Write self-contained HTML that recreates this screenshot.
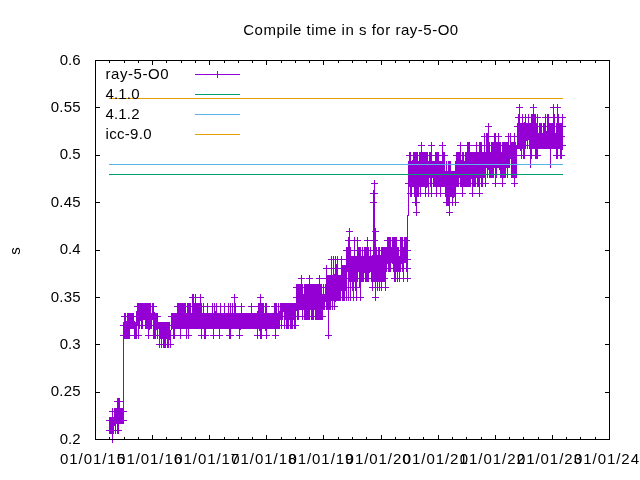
<!DOCTYPE html>
<html><head><meta charset="utf-8"><title>Compile time in s for ray-5-O0</title>
<style>
html,body{margin:0;padding:0;background:#fff;}
svg{display:block;will-change:transform;font-family:"Liberation Sans",sans-serif;font-size:15px;fill:#000;}
path,rect{shape-rendering:crispEdges;fill:none;stroke-width:1;}
</style></head><body>
<svg width="640" height="480" viewBox="0 0 640 480">
<rect x="0" y="0" width="640" height="480" style="fill:#fff;stroke:none"/>
<g stroke="#9400d3"><path d="M109.5 430.5 L109.5 420.5 L109.5 430.5 L109.5 420.5 L110.5 420.5 L110.5 430.5 L110.5 420.5 L111.5 430.5 L111.5 420.5 L111.5 430.5 L111.5 420.5 L112.5 420.5 L112.5 411.5 L112.5 439.5 L112.5 420.5 L113.5 430.5 L113.5 420.5 L114.5 420.5 L114.5 411.5 L114.5 420.5 L115.5 430.5 L115.5 411.5 L115.5 420.5 L116.5 411.5 L116.5 420.5 L116.5 411.5 L117.5 430.5 L117.5 411.5 L117.5 401.5 L117.5 411.5 L118.5 401.5 L118.5 430.5 L118.5 411.5 L118.5 401.5 L119.5 411.5 L119.5 401.5 L119.5 420.5 L119.5 411.5 L120.5 420.5 L120.5 411.5 L120.5 420.5 L121.5 411.5 L121.5 420.5 L121.5 411.5 L122.5 420.5 L122.5 411.5 L122.5 420.5 L122.5 411.5 L123.5 411.5 L123.5 420.5 L123.5 335.5 L123.5 325.5 L124.5 325.5 L124.5 335.5 L124.5 316.5 L124.5 335.5 L124.5 316.5 L125.5 335.5 L125.5 316.5 L125.5 325.5 L125.5 335.5 L126.5 335.5 L126.5 325.5 L126.5 335.5 L126.5 325.5 L127.5 316.5 L127.5 335.5 L127.5 325.5 L128.5 325.5 L128.5 335.5 L128.5 325.5 L128.5 316.5 L128.5 325.5 L129.5 316.5 L129.5 335.5 L129.5 325.5 L129.5 316.5 L129.5 325.5 L129.5 316.5 L130.5 325.5 L130.5 316.5 L130.5 325.5 L130.5 316.5 L130.5 325.5 L131.5 316.5 L131.5 325.5 L131.5 316.5 L132.5 316.5 L132.5 325.5 L132.5 316.5 L132.5 325.5 L133.5 316.5 L133.5 325.5 L133.5 316.5 L134.5 325.5 L134.5 335.5 L134.5 325.5 L135.5 325.5 L135.5 335.5 L135.5 325.5 L135.5 335.5 L136.5 316.5 L136.5 325.5 L136.5 316.5 L136.5 325.5 L136.5 335.5 L136.5 316.5 L137.5 306.5 L137.5 316.5 L137.5 306.5 L137.5 316.5 L138.5 335.5 L138.5 316.5 L138.5 325.5 L138.5 306.5 L139.5 306.5 L139.5 316.5 L139.5 325.5 L140.5 316.5 L140.5 306.5 L141.5 316.5 L141.5 306.5 L141.5 325.5 L141.5 316.5 L141.5 306.5 L142.5 316.5 L142.5 325.5 L142.5 306.5 L142.5 325.5 L142.5 306.5 L143.5 316.5 L143.5 306.5 L144.5 306.5 L144.5 316.5 L144.5 306.5 L144.5 316.5 L144.5 306.5 L145.5 306.5 L145.5 325.5 L145.5 316.5 L145.5 325.5 L146.5 316.5 L146.5 306.5 L146.5 325.5 L146.5 306.5 L146.5 316.5 L147.5 325.5 L147.5 306.5 L147.5 316.5 L148.5 316.5 L148.5 306.5 L148.5 335.5 L149.5 325.5 L149.5 316.5 L149.5 306.5 L149.5 316.5 L149.5 325.5 L149.5 316.5 L149.5 325.5 L150.5 306.5 L150.5 316.5 L150.5 325.5 L150.5 306.5 L150.5 325.5 L151.5 316.5 L151.5 325.5 L151.5 316.5 L152.5 316.5 L152.5 306.5 L153.5 316.5 L153.5 306.5 L153.5 335.5 L153.5 306.5 L154.5 316.5 L154.5 325.5 L154.5 316.5 L154.5 325.5 L154.5 335.5 L155.5 316.5 L155.5 325.5 L155.5 335.5 L155.5 316.5 L155.5 335.5 L156.5 325.5 L156.5 316.5 L156.5 325.5 L157.5 325.5 L157.5 316.5 L157.5 335.5 L157.5 325.5 L158.5 325.5 L159.5 325.5 L159.5 344.5 L159.5 325.5 L159.5 335.5 L159.5 325.5 L160.5 325.5 L160.5 335.5 L160.5 325.5 L160.5 335.5 L161.5 335.5 L161.5 344.5 L161.5 335.5 L161.5 325.5 L161.5 335.5 L162.5 335.5 L162.5 325.5 L162.5 335.5 L163.5 325.5 L163.5 335.5 L163.5 344.5 L163.5 325.5 L163.5 344.5 L163.5 335.5 L164.5 344.5 L164.5 325.5 L164.5 335.5 L164.5 325.5 L165.5 344.5 L165.5 335.5 L165.5 325.5 L165.5 335.5 L165.5 325.5 L166.5 335.5 L166.5 325.5 L166.5 335.5 L166.5 325.5 L166.5 335.5 L167.5 335.5 L167.5 325.5 L167.5 344.5 L167.5 335.5 L167.5 344.5 L168.5 325.5 L168.5 344.5 L168.5 325.5 L168.5 335.5 L168.5 325.5 L168.5 335.5 L169.5 335.5 L169.5 325.5 L169.5 335.5 L170.5 344.5 L170.5 335.5 L170.5 344.5 L170.5 335.5 L171.5 325.5 L171.5 316.5 L171.5 325.5 L171.5 316.5 L171.5 325.5 L172.5 325.5 L172.5 316.5 L172.5 325.5 L172.5 316.5 L172.5 325.5 L173.5 316.5 L173.5 325.5 L173.5 335.5 L173.5 316.5 L173.5 325.5 L174.5 316.5 L174.5 335.5 L175.5 316.5 L175.5 325.5 L175.5 316.5 L175.5 325.5 L175.5 316.5 L175.5 325.5 L176.5 325.5 L176.5 316.5 L176.5 325.5 L176.5 316.5 L176.5 325.5 L177.5 316.5 L177.5 325.5 L177.5 306.5 L177.5 325.5 L177.5 316.5 L177.5 325.5 L178.5 306.5 L178.5 325.5 L178.5 316.5 L178.5 325.5 L178.5 306.5 L178.5 325.5 L179.5 316.5 L179.5 306.5 L179.5 316.5 L179.5 306.5 L179.5 325.5 L179.5 316.5 L180.5 306.5 L180.5 335.5 L180.5 316.5 L180.5 306.5 L180.5 325.5 L180.5 316.5 L181.5 325.5 L181.5 316.5 L181.5 325.5 L181.5 306.5 L181.5 316.5 L182.5 306.5 L182.5 316.5 L182.5 325.5 L182.5 306.5 L182.5 325.5 L183.5 325.5 L183.5 306.5 L183.5 325.5 L183.5 316.5 L183.5 325.5 L183.5 306.5 L184.5 316.5 L184.5 325.5 L184.5 316.5 L184.5 306.5 L184.5 325.5 L184.5 316.5 L185.5 325.5 L185.5 306.5 L185.5 316.5 L185.5 325.5 L185.5 306.5 L186.5 325.5 L186.5 316.5 L186.5 335.5 L186.5 325.5 L186.5 316.5 L187.5 316.5 L187.5 306.5 L187.5 325.5 L188.5 316.5 L188.5 325.5 L188.5 306.5 L188.5 316.5 L188.5 335.5 L188.5 325.5 L189.5 316.5 L189.5 325.5 L189.5 306.5 L189.5 325.5 L190.5 316.5 L190.5 306.5 L190.5 325.5 L190.5 316.5 L191.5 325.5 L191.5 316.5 L191.5 325.5 L191.5 316.5 L191.5 325.5 L192.5 316.5 L192.5 325.5 L192.5 316.5 L192.5 325.5 L192.5 306.5 L192.5 316.5 L192.5 297.5 L193.5 316.5 L193.5 297.5 L193.5 325.5 L193.5 306.5 L194.5 306.5 L194.5 325.5 L194.5 316.5 L194.5 306.5 L194.5 316.5 L195.5 316.5 L195.5 297.5 L195.5 316.5 L195.5 297.5 L195.5 325.5 L195.5 297.5 L195.5 325.5 L196.5 316.5 L196.5 325.5 L196.5 306.5 L196.5 325.5 L197.5 316.5 L197.5 325.5 L197.5 306.5 L197.5 316.5 L197.5 325.5 L198.5 325.5 L198.5 316.5 L198.5 306.5 L198.5 316.5 L199.5 325.5 L199.5 306.5 L199.5 325.5 L199.5 316.5 L200.5 325.5 L200.5 306.5 L200.5 325.5 L200.5 316.5 L200.5 325.5 L200.5 297.5 L201.5 316.5 L201.5 335.5 L201.5 306.5 L201.5 325.5 L201.5 306.5 L201.5 325.5 L202.5 325.5 L202.5 316.5 L202.5 325.5 L203.5 306.5 L203.5 316.5 L203.5 325.5 L203.5 316.5 L204.5 316.5 L204.5 335.5 L204.5 325.5 L204.5 316.5 L204.5 325.5 L205.5 325.5 L205.5 335.5 L205.5 316.5 L205.5 325.5 L206.5 325.5 L206.5 316.5 L206.5 325.5 L206.5 316.5 L207.5 325.5 L207.5 306.5 L207.5 325.5 L207.5 316.5 L208.5 325.5 L208.5 316.5 L208.5 325.5 L208.5 316.5 L209.5 325.5 L209.5 316.5 L209.5 325.5 L209.5 316.5 L210.5 325.5 L210.5 316.5 L210.5 325.5 L211.5 325.5 L211.5 316.5 L211.5 325.5 L212.5 316.5 L212.5 325.5 L212.5 306.5 L212.5 325.5 L213.5 325.5 L213.5 316.5 L213.5 335.5 L213.5 316.5 L214.5 316.5 L214.5 325.5 L214.5 316.5 L214.5 325.5 L214.5 306.5 L214.5 325.5 L215.5 325.5 L215.5 316.5 L216.5 306.5 L216.5 325.5 L216.5 316.5 L216.5 325.5 L217.5 325.5 L217.5 316.5 L217.5 325.5 L218.5 316.5 L218.5 325.5 L218.5 316.5 L218.5 325.5 L219.5 325.5 L219.5 335.5 L219.5 325.5 L219.5 316.5 L219.5 325.5 L220.5 316.5 L220.5 306.5 L220.5 325.5 L220.5 316.5 L221.5 325.5 L221.5 316.5 L222.5 316.5 L222.5 325.5 L222.5 316.5 L222.5 325.5 L222.5 316.5 L223.5 325.5 L223.5 316.5 L223.5 325.5 L223.5 316.5 L223.5 325.5 L224.5 325.5 L224.5 316.5 L224.5 306.5 L224.5 325.5 L225.5 316.5 L225.5 325.5 L225.5 316.5 L225.5 325.5 L225.5 316.5 L226.5 316.5 L226.5 325.5 L226.5 316.5 L226.5 325.5 L226.5 316.5 L226.5 325.5 L227.5 316.5 L227.5 325.5 L227.5 316.5 L227.5 325.5 L228.5 316.5 L228.5 325.5 L228.5 306.5 L228.5 316.5 L229.5 325.5 L229.5 335.5 L229.5 316.5 L230.5 316.5 L230.5 306.5 L230.5 316.5 L230.5 335.5 L230.5 325.5 L231.5 325.5 L231.5 316.5 L231.5 325.5 L231.5 316.5 L232.5 316.5 L232.5 325.5 L232.5 316.5 L232.5 306.5 L232.5 316.5 L233.5 316.5 L233.5 325.5 L234.5 325.5 L234.5 316.5 L234.5 325.5 L234.5 297.5 L234.5 325.5 L234.5 316.5 L234.5 325.5 L235.5 316.5 L235.5 325.5 L235.5 306.5 L235.5 325.5 L236.5 325.5 L236.5 316.5 L236.5 325.5 L236.5 316.5 L237.5 316.5 L237.5 325.5 L238.5 325.5 L238.5 316.5 L239.5 316.5 L239.5 325.5 L239.5 316.5 L239.5 335.5 L240.5 325.5 L240.5 316.5 L240.5 325.5 L240.5 316.5 L240.5 325.5 L241.5 316.5 L241.5 325.5 L241.5 306.5 L241.5 316.5 L242.5 325.5 L242.5 316.5 L242.5 325.5 L243.5 316.5 L243.5 325.5 L244.5 325.5 L244.5 316.5 L244.5 325.5 L244.5 316.5 L245.5 325.5 L245.5 316.5 L245.5 325.5 L245.5 316.5 L246.5 325.5 L246.5 316.5 L246.5 325.5 L247.5 316.5 L247.5 325.5 L248.5 316.5 L248.5 325.5 L248.5 316.5 L249.5 325.5 L249.5 316.5 L249.5 325.5 L249.5 316.5 L249.5 325.5 L249.5 316.5 L250.5 316.5 L250.5 325.5 L250.5 316.5 L251.5 325.5 L251.5 306.5 L251.5 316.5 L251.5 325.5 L251.5 316.5 L252.5 316.5 L252.5 325.5 L252.5 316.5 L253.5 316.5 L253.5 325.5 L253.5 316.5 L253.5 325.5 L253.5 316.5 L254.5 316.5 L254.5 325.5 L254.5 316.5 L254.5 325.5 L254.5 316.5 L254.5 325.5 L254.5 316.5 L255.5 325.5 L255.5 316.5 L255.5 325.5 L255.5 316.5 L255.5 325.5 L255.5 316.5 L256.5 316.5 L256.5 325.5 L256.5 316.5 L256.5 325.5 L257.5 325.5 L257.5 335.5 L257.5 325.5 L257.5 316.5 L258.5 306.5 L258.5 325.5 L258.5 316.5 L258.5 306.5 L259.5 325.5 L259.5 306.5 L259.5 316.5 L259.5 306.5 L259.5 325.5 L260.5 335.5 L260.5 325.5 L260.5 297.5 L260.5 316.5 L260.5 325.5 L260.5 316.5 L261.5 335.5 L261.5 325.5 L261.5 306.5 L261.5 325.5 L261.5 316.5 L261.5 325.5 L262.5 325.5 L262.5 306.5 L263.5 316.5 L263.5 325.5 L263.5 306.5 L263.5 316.5 L263.5 325.5 L264.5 325.5 L264.5 316.5 L264.5 325.5 L265.5 316.5 L265.5 306.5 L265.5 316.5 L265.5 325.5 L266.5 335.5 L266.5 306.5 L266.5 325.5 L267.5 325.5 L267.5 316.5 L267.5 325.5 L267.5 316.5 L268.5 325.5 L268.5 316.5 L268.5 325.5 L269.5 325.5 L269.5 316.5 L269.5 325.5 L270.5 325.5 L270.5 316.5 L270.5 325.5 L270.5 316.5 L271.5 316.5 L271.5 325.5 L271.5 316.5 L272.5 325.5 L272.5 316.5 L272.5 325.5 L272.5 316.5 L273.5 316.5 L273.5 325.5 L273.5 316.5 L273.5 325.5 L273.5 316.5 L273.5 325.5 L274.5 325.5 L274.5 316.5 L274.5 325.5 L274.5 306.5 L274.5 325.5 L275.5 316.5 L275.5 306.5 L275.5 325.5 L275.5 335.5 L275.5 316.5 L276.5 316.5 L276.5 306.5 L276.5 325.5 L276.5 316.5 L276.5 325.5 L277.5 316.5 L277.5 325.5 L278.5 306.5 L278.5 325.5 L278.5 316.5 L279.5 316.5 L279.5 325.5 L279.5 316.5 L280.5 306.5 L280.5 316.5 L280.5 306.5 L281.5 306.5 L281.5 316.5 L281.5 306.5 L281.5 325.5 L281.5 306.5 L282.5 316.5 L282.5 306.5 L282.5 316.5 L282.5 306.5 L282.5 316.5 L283.5 306.5 L284.5 316.5 L284.5 306.5 L284.5 325.5 L284.5 316.5 L284.5 306.5 L285.5 316.5 L285.5 306.5 L285.5 316.5 L285.5 306.5 L285.5 316.5 L285.5 306.5 L285.5 316.5 L286.5 316.5 L286.5 306.5 L286.5 316.5 L286.5 306.5 L286.5 316.5 L286.5 325.5 L287.5 316.5 L287.5 306.5 L287.5 325.5 L287.5 306.5 L287.5 316.5 L288.5 306.5 L288.5 325.5 L288.5 306.5 L288.5 316.5 L288.5 306.5 L289.5 306.5 L289.5 316.5 L289.5 306.5 L289.5 316.5 L289.5 306.5 L289.5 316.5 L290.5 306.5 L290.5 325.5 L290.5 316.5 L290.5 306.5 L290.5 316.5 L291.5 306.5 L291.5 325.5 L291.5 316.5 L291.5 306.5 L291.5 316.5 L291.5 306.5 L292.5 316.5 L292.5 306.5 L292.5 325.5 L292.5 316.5 L293.5 316.5 L293.5 306.5 L293.5 316.5 L294.5 316.5 L294.5 325.5 L294.5 316.5 L294.5 306.5 L294.5 325.5 L294.5 306.5 L295.5 316.5 L295.5 306.5 L295.5 316.5 L295.5 325.5 L296.5 297.5 L296.5 306.5 L296.5 287.5 L296.5 306.5 L297.5 306.5 L297.5 297.5 L297.5 316.5 L297.5 287.5 L297.5 306.5 L298.5 316.5 L298.5 306.5 L298.5 287.5 L298.5 306.5 L298.5 287.5 L299.5 306.5 L299.5 287.5 L299.5 306.5 L300.5 297.5 L300.5 306.5 L300.5 297.5 L300.5 287.5 L300.5 297.5 L301.5 278.5 L301.5 306.5 L301.5 287.5 L301.5 297.5 L302.5 316.5 L302.5 306.5 L302.5 287.5 L302.5 297.5 L302.5 287.5 L302.5 306.5 L303.5 297.5 L303.5 306.5 L303.5 297.5 L303.5 306.5 L304.5 287.5 L304.5 297.5 L304.5 316.5 L304.5 306.5 L305.5 316.5 L305.5 297.5 L305.5 306.5 L305.5 297.5 L305.5 316.5 L305.5 287.5 L305.5 316.5 L306.5 297.5 L306.5 306.5 L306.5 287.5 L306.5 316.5 L306.5 306.5 L307.5 287.5 L307.5 316.5 L307.5 306.5 L307.5 297.5 L307.5 287.5 L307.5 306.5 L307.5 297.5 L308.5 297.5 L308.5 316.5 L308.5 287.5 L308.5 297.5 L309.5 278.5 L309.5 306.5 L309.5 278.5 L309.5 306.5 L309.5 316.5 L309.5 297.5 L309.5 306.5 L310.5 306.5 L310.5 287.5 L310.5 297.5 L310.5 287.5 L310.5 297.5 L311.5 306.5 L311.5 287.5 L311.5 306.5 L311.5 297.5 L311.5 316.5 L312.5 306.5 L312.5 316.5 L312.5 287.5 L312.5 297.5 L313.5 316.5 L313.5 297.5 L313.5 287.5 L313.5 306.5 L313.5 316.5 L314.5 287.5 L314.5 306.5 L314.5 297.5 L314.5 287.5 L314.5 297.5 L315.5 316.5 L315.5 306.5 L315.5 297.5 L315.5 287.5 L315.5 316.5 L315.5 297.5 L316.5 297.5 L316.5 287.5 L316.5 297.5 L316.5 306.5 L316.5 316.5 L316.5 287.5 L316.5 316.5 L317.5 316.5 L317.5 287.5 L317.5 306.5 L317.5 297.5 L317.5 306.5 L318.5 306.5 L318.5 287.5 L318.5 316.5 L318.5 306.5 L318.5 316.5 L319.5 306.5 L319.5 287.5 L319.5 278.5 L319.5 297.5 L319.5 316.5 L319.5 297.5 L320.5 297.5 L320.5 306.5 L320.5 287.5 L320.5 316.5 L320.5 306.5 L320.5 297.5 L321.5 297.5 L321.5 306.5 L321.5 316.5 L321.5 297.5 L321.5 287.5 L321.5 316.5 L322.5 306.5 L322.5 297.5 L322.5 316.5 L323.5 287.5 L323.5 306.5 L323.5 287.5 L323.5 306.5 L324.5 297.5 L324.5 306.5 L324.5 297.5 L324.5 306.5 L325.5 297.5 L325.5 287.5 L326.5 287.5 L326.5 268.5 L326.5 306.5 L326.5 278.5 L326.5 268.5 L327.5 297.5 L327.5 287.5 L327.5 306.5 L327.5 278.5 L327.5 287.5 L327.5 278.5 L328.5 297.5 L328.5 335.5 L328.5 287.5 L328.5 278.5 L328.5 306.5 L328.5 297.5 L328.5 278.5 L329.5 306.5 L329.5 278.5 L329.5 287.5 L329.5 297.5 L329.5 287.5 L329.5 297.5 L330.5 278.5 L330.5 306.5 L330.5 287.5 L330.5 306.5 L331.5 259.5 L331.5 297.5 L331.5 287.5 L331.5 268.5 L332.5 306.5 L332.5 278.5 L332.5 287.5 L332.5 297.5 L332.5 278.5 L333.5 278.5 L333.5 287.5 L333.5 297.5 L333.5 259.5 L334.5 287.5 L334.5 297.5 L334.5 278.5 L334.5 287.5 L334.5 297.5 L334.5 306.5 L335.5 297.5 L335.5 287.5 L335.5 297.5 L335.5 287.5 L335.5 297.5 L335.5 259.5 L336.5 268.5 L336.5 278.5 L336.5 287.5 L336.5 297.5 L336.5 287.5 L337.5 287.5 L337.5 268.5 L337.5 287.5 L337.5 259.5 L337.5 297.5 L337.5 268.5 L338.5 297.5 L338.5 278.5 L338.5 287.5 L338.5 278.5 L338.5 287.5 L339.5 287.5 L339.5 278.5 L339.5 287.5 L339.5 297.5 L339.5 278.5 L340.5 297.5 L340.5 278.5 L340.5 297.5 L340.5 287.5 L341.5 278.5 L341.5 287.5 L341.5 268.5 L341.5 287.5 L341.5 259.5 L342.5 287.5 L342.5 268.5 L342.5 297.5 L342.5 278.5 L342.5 287.5 L343.5 297.5 L343.5 278.5 L343.5 287.5 L343.5 268.5 L344.5 297.5 L344.5 287.5 L344.5 278.5 L344.5 287.5 L344.5 278.5 L344.5 268.5 L344.5 278.5 L345.5 278.5 L345.5 268.5 L345.5 278.5 L345.5 268.5 L345.5 278.5 L345.5 287.5 L346.5 268.5 L346.5 278.5 L346.5 259.5 L346.5 297.5 L346.5 259.5 L346.5 250.5 L347.5 268.5 L347.5 250.5 L347.5 268.5 L347.5 250.5 L347.5 259.5 L347.5 268.5 L347.5 250.5 L348.5 250.5 L348.5 259.5 L348.5 278.5 L348.5 297.5 L348.5 278.5 L348.5 287.5 L348.5 240.5 L349.5 259.5 L349.5 278.5 L349.5 231.5 L349.5 240.5 L349.5 250.5 L349.5 278.5 L350.5 259.5 L350.5 278.5 L350.5 297.5 L350.5 250.5 L350.5 268.5 L351.5 268.5 L351.5 259.5 L351.5 278.5 L351.5 268.5 L352.5 287.5 L352.5 259.5 L352.5 278.5 L352.5 268.5 L352.5 259.5 L352.5 278.5 L353.5 259.5 L353.5 268.5 L353.5 297.5 L353.5 259.5 L353.5 268.5 L353.5 287.5 L354.5 268.5 L354.5 278.5 L354.5 240.5 L354.5 259.5 L354.5 278.5 L355.5 259.5 L355.5 278.5 L355.5 268.5 L355.5 287.5 L355.5 259.5 L356.5 268.5 L356.5 297.5 L356.5 259.5 L356.5 268.5 L356.5 259.5 L357.5 268.5 L357.5 259.5 L357.5 240.5 L357.5 259.5 L357.5 268.5 L357.5 278.5 L358.5 259.5 L358.5 268.5 L358.5 250.5 L358.5 259.5 L358.5 250.5 L359.5 278.5 L359.5 250.5 L359.5 278.5 L359.5 268.5 L359.5 259.5 L359.5 278.5 L360.5 297.5 L360.5 259.5 L360.5 250.5 L360.5 278.5 L360.5 268.5 L361.5 278.5 L361.5 259.5 L361.5 278.5 L361.5 268.5 L361.5 278.5 L362.5 250.5 L362.5 268.5 L362.5 259.5 L362.5 278.5 L362.5 268.5 L362.5 259.5 L363.5 268.5 L363.5 259.5 L363.5 268.5 L363.5 259.5 L363.5 278.5 L364.5 268.5 L364.5 259.5 L364.5 250.5 L364.5 259.5 L364.5 268.5 L364.5 250.5 L365.5 259.5 L365.5 250.5 L365.5 278.5 L365.5 259.5 L365.5 250.5 L366.5 268.5 L366.5 250.5 L366.5 278.5 L366.5 259.5 L367.5 259.5 L367.5 250.5 L367.5 278.5 L367.5 259.5 L367.5 240.5 L367.5 268.5 L368.5 268.5 L368.5 259.5 L368.5 268.5 L368.5 250.5 L368.5 268.5 L368.5 278.5 L369.5 268.5 L369.5 259.5 L369.5 268.5 L369.5 259.5 L369.5 268.5 L370.5 268.5 L370.5 250.5 L370.5 259.5 L370.5 250.5 L371.5 268.5 L371.5 278.5 L371.5 259.5 L372.5 259.5 L372.5 268.5 L372.5 278.5 L372.5 268.5 L372.5 278.5 L372.5 287.5 L372.5 259.5 L373.5 250.5 L373.5 278.5 L373.5 259.5 L373.5 202.5 L373.5 250.5 L373.5 193.5 L373.5 268.5 L374.5 183.5 L374.5 278.5 L374.5 268.5 L374.5 193.5 L374.5 278.5 L374.5 240.5 L374.5 278.5 L374.5 259.5 L375.5 231.5 L375.5 259.5 L375.5 268.5 L375.5 278.5 L375.5 297.5 L375.5 259.5 L376.5 268.5 L376.5 259.5 L376.5 278.5 L376.5 250.5 L376.5 259.5 L376.5 278.5 L376.5 250.5 L377.5 268.5 L377.5 278.5 L377.5 287.5 L377.5 278.5 L377.5 259.5 L378.5 250.5 L378.5 278.5 L378.5 250.5 L378.5 259.5 L379.5 259.5 L379.5 268.5 L379.5 278.5 L379.5 287.5 L379.5 250.5 L380.5 259.5 L380.5 278.5 L380.5 259.5 L381.5 268.5 L381.5 278.5 L381.5 250.5 L381.5 287.5 L381.5 250.5 L382.5 259.5 L382.5 250.5 L382.5 268.5 L382.5 278.5 L383.5 268.5 L383.5 250.5 L383.5 278.5 L383.5 259.5 L383.5 278.5 L383.5 259.5 L383.5 268.5 L384.5 259.5 L384.5 278.5 L384.5 268.5 L384.5 278.5 L384.5 250.5 L384.5 278.5 L385.5 268.5 L385.5 287.5 L385.5 250.5 L385.5 259.5 L385.5 250.5 L385.5 259.5 L386.5 250.5 L386.5 268.5 L386.5 250.5 L386.5 268.5 L387.5 240.5 L387.5 250.5 L387.5 259.5 L387.5 250.5 L387.5 259.5 L388.5 268.5 L388.5 250.5 L388.5 240.5 L388.5 268.5 L388.5 240.5 L389.5 250.5 L389.5 268.5 L389.5 240.5 L389.5 250.5 L390.5 250.5 L390.5 259.5 L390.5 268.5 L390.5 259.5 L390.5 268.5 L390.5 240.5 L391.5 259.5 L391.5 250.5 L392.5 259.5 L392.5 240.5 L392.5 259.5 L393.5 268.5 L393.5 240.5 L393.5 250.5 L393.5 259.5 L393.5 250.5 L394.5 259.5 L394.5 240.5 L394.5 250.5 L394.5 278.5 L394.5 250.5 L395.5 259.5 L395.5 250.5 L395.5 259.5 L395.5 278.5 L395.5 240.5 L395.5 250.5 L396.5 250.5 L396.5 268.5 L396.5 240.5 L396.5 250.5 L396.5 268.5 L396.5 250.5 L397.5 259.5 L397.5 250.5 L397.5 278.5 L398.5 250.5 L398.5 268.5 L398.5 250.5 L398.5 259.5 L398.5 268.5 L399.5 268.5 L399.5 259.5 L399.5 278.5 L399.5 259.5 L399.5 268.5 L399.5 259.5 L400.5 259.5 L400.5 240.5 L400.5 250.5 L400.5 268.5 L401.5 259.5 L401.5 250.5 L401.5 259.5 L401.5 240.5 L401.5 259.5 L402.5 268.5 L402.5 250.5 L402.5 240.5 L402.5 268.5 L402.5 259.5 L402.5 250.5 L403.5 259.5 L403.5 278.5 L403.5 250.5 L403.5 259.5 L403.5 250.5 L403.5 259.5 L404.5 259.5 L404.5 240.5 L404.5 259.5 L404.5 240.5 L404.5 259.5 L405.5 240.5 L405.5 250.5 L405.5 240.5 L405.5 250.5 L405.5 259.5 L406.5 240.5 L406.5 250.5 L406.5 240.5 L406.5 250.5 L406.5 268.5 L407.5 250.5 L407.5 268.5 L407.5 278.5 L407.5 259.5 L407.5 268.5 L407.5 259.5 L408.5 174.5 L408.5 183.5 L408.5 174.5 L408.5 164.5 L408.5 183.5 L409.5 183.5 L409.5 174.5 L409.5 164.5 L409.5 155.5 L409.5 174.5 L409.5 164.5 L409.5 174.5 L410.5 193.5 L410.5 164.5 L410.5 183.5 L410.5 174.5 L410.5 155.5 L410.5 164.5 L411.5 183.5 L411.5 193.5 L411.5 164.5 L411.5 174.5 L411.5 193.5 L411.5 183.5 L412.5 164.5 L412.5 174.5 L412.5 164.5 L412.5 183.5 L412.5 164.5 L413.5 155.5 L413.5 164.5 L413.5 183.5 L413.5 155.5 L413.5 174.5 L413.5 183.5 L413.5 174.5 L414.5 183.5 L414.5 193.5 L414.5 155.5 L414.5 174.5 L414.5 193.5 L414.5 164.5 L415.5 202.5 L415.5 164.5 L415.5 193.5 L415.5 174.5 L415.5 183.5 L415.5 155.5 L416.5 202.5 L416.5 174.5 L416.5 183.5 L416.5 212.5 L416.5 155.5 L416.5 193.5 L416.5 174.5 L417.5 193.5 L417.5 164.5 L417.5 193.5 L417.5 174.5 L417.5 183.5 L417.5 155.5 L417.5 174.5 L418.5 183.5 L418.5 174.5 L418.5 193.5 L418.5 174.5 L418.5 164.5 L419.5 183.5 L419.5 174.5 L419.5 164.5 L419.5 174.5 L419.5 155.5 L420.5 183.5 L420.5 193.5 L420.5 174.5 L420.5 155.5 L420.5 164.5 L420.5 183.5 L421.5 155.5 L421.5 183.5 L421.5 155.5 L421.5 145.5 L421.5 164.5 L421.5 174.5 L421.5 183.5 L422.5 183.5 L422.5 164.5 L422.5 155.5 L422.5 164.5 L422.5 155.5 L423.5 155.5 L423.5 164.5 L423.5 155.5 L423.5 183.5 L423.5 174.5 L423.5 183.5 L424.5 183.5 L424.5 155.5 L424.5 183.5 L424.5 174.5 L424.5 183.5 L425.5 164.5 L425.5 183.5 L425.5 155.5 L425.5 183.5 L425.5 174.5 L425.5 183.5 L425.5 193.5 L426.5 183.5 L426.5 164.5 L426.5 174.5 L426.5 164.5 L426.5 155.5 L427.5 155.5 L427.5 183.5 L427.5 155.5 L427.5 164.5 L427.5 174.5 L428.5 174.5 L428.5 164.5 L428.5 193.5 L428.5 174.5 L429.5 174.5 L429.5 155.5 L429.5 164.5 L429.5 155.5 L429.5 164.5 L429.5 155.5 L430.5 164.5 L430.5 183.5 L430.5 164.5 L430.5 155.5 L431.5 193.5 L431.5 174.5 L431.5 155.5 L431.5 174.5 L431.5 145.5 L431.5 193.5 L431.5 174.5 L432.5 164.5 L432.5 174.5 L432.5 164.5 L432.5 174.5 L432.5 164.5 L433.5 164.5 L433.5 183.5 L433.5 174.5 L433.5 164.5 L434.5 164.5 L434.5 183.5 L434.5 174.5 L434.5 183.5 L434.5 174.5 L435.5 183.5 L435.5 174.5 L435.5 155.5 L435.5 174.5 L435.5 183.5 L435.5 164.5 L436.5 183.5 L436.5 174.5 L436.5 164.5 L436.5 183.5 L436.5 155.5 L436.5 193.5 L437.5 164.5 L437.5 155.5 L437.5 174.5 L437.5 183.5 L437.5 155.5 L437.5 174.5 L438.5 174.5 L438.5 183.5 L438.5 155.5 L438.5 183.5 L439.5 183.5 L439.5 164.5 L439.5 183.5 L439.5 174.5 L439.5 183.5 L440.5 174.5 L440.5 164.5 L440.5 174.5 L440.5 164.5 L440.5 193.5 L440.5 183.5 L441.5 164.5 L441.5 183.5 L441.5 174.5 L441.5 183.5 L441.5 174.5 L442.5 164.5 L442.5 183.5 L442.5 174.5 L442.5 183.5 L442.5 145.5 L442.5 164.5 L442.5 174.5 L443.5 164.5 L443.5 174.5 L443.5 164.5 L443.5 155.5 L443.5 164.5 L443.5 174.5 L443.5 183.5 L444.5 164.5 L444.5 183.5 L444.5 164.5 L444.5 155.5 L444.5 164.5 L445.5 193.5 L445.5 174.5 L445.5 193.5 L445.5 174.5 L446.5 183.5 L446.5 202.5 L446.5 183.5 L446.5 174.5 L446.5 183.5 L446.5 164.5 L446.5 174.5 L447.5 183.5 L447.5 174.5 L447.5 193.5 L447.5 202.5 L447.5 193.5 L447.5 174.5 L448.5 193.5 L448.5 183.5 L448.5 202.5 L448.5 164.5 L448.5 183.5 L449.5 212.5 L449.5 183.5 L449.5 164.5 L449.5 193.5 L449.5 183.5 L449.5 164.5 L449.5 183.5 L449.5 174.5 L450.5 183.5 L450.5 193.5 L450.5 174.5 L450.5 164.5 L450.5 193.5 L450.5 164.5 L451.5 193.5 L451.5 183.5 L451.5 174.5 L451.5 183.5 L451.5 174.5 L452.5 183.5 L452.5 174.5 L452.5 193.5 L452.5 174.5 L452.5 183.5 L452.5 193.5 L452.5 202.5 L453.5 193.5 L453.5 183.5 L453.5 174.5 L453.5 193.5 L453.5 183.5 L453.5 193.5 L454.5 183.5 L454.5 174.5 L454.5 193.5 L455.5 193.5 L455.5 202.5 L455.5 164.5 L455.5 174.5 L455.5 202.5 L455.5 174.5 L455.5 183.5 L456.5 164.5 L456.5 155.5 L456.5 174.5 L456.5 164.5 L456.5 174.5 L456.5 183.5 L456.5 164.5 L457.5 174.5 L457.5 164.5 L457.5 183.5 L457.5 155.5 L457.5 183.5 L457.5 164.5 L458.5 174.5 L458.5 183.5 L458.5 164.5 L458.5 155.5 L459.5 174.5 L459.5 164.5 L459.5 174.5 L459.5 155.5 L460.5 164.5 L460.5 155.5 L460.5 183.5 L460.5 145.5 L460.5 164.5 L460.5 174.5 L461.5 183.5 L461.5 174.5 L461.5 164.5 L461.5 174.5 L461.5 164.5 L462.5 155.5 L462.5 174.5 L462.5 155.5 L462.5 193.5 L463.5 174.5 L463.5 164.5 L463.5 183.5 L463.5 174.5 L463.5 155.5 L463.5 174.5 L464.5 164.5 L464.5 174.5 L464.5 164.5 L464.5 183.5 L464.5 174.5 L465.5 174.5 L465.5 164.5 L465.5 155.5 L465.5 174.5 L465.5 155.5 L465.5 183.5 L465.5 164.5 L466.5 183.5 L466.5 155.5 L466.5 164.5 L466.5 174.5 L466.5 155.5 L466.5 174.5 L467.5 145.5 L467.5 174.5 L467.5 183.5 L467.5 164.5 L467.5 174.5 L468.5 155.5 L468.5 174.5 L468.5 183.5 L468.5 164.5 L468.5 155.5 L468.5 145.5 L469.5 174.5 L469.5 164.5 L469.5 183.5 L469.5 145.5 L469.5 155.5 L469.5 174.5 L470.5 164.5 L470.5 183.5 L470.5 174.5 L470.5 155.5 L470.5 174.5 L470.5 155.5 L471.5 164.5 L471.5 155.5 L471.5 174.5 L471.5 155.5 L471.5 174.5 L472.5 183.5 L472.5 155.5 L472.5 164.5 L472.5 155.5 L472.5 193.5 L473.5 155.5 L473.5 174.5 L473.5 183.5 L473.5 174.5 L473.5 155.5 L474.5 183.5 L474.5 155.5 L474.5 164.5 L474.5 155.5 L474.5 174.5 L474.5 155.5 L475.5 155.5 L475.5 174.5 L475.5 183.5 L475.5 174.5 L475.5 183.5 L475.5 174.5 L476.5 174.5 L476.5 145.5 L476.5 164.5 L476.5 155.5 L477.5 183.5 L477.5 155.5 L477.5 164.5 L477.5 155.5 L477.5 174.5 L477.5 164.5 L478.5 155.5 L478.5 164.5 L478.5 183.5 L478.5 155.5 L478.5 174.5 L478.5 155.5 L479.5 174.5 L479.5 193.5 L479.5 174.5 L479.5 145.5 L479.5 174.5 L479.5 164.5 L480.5 164.5 L480.5 145.5 L480.5 164.5 L480.5 174.5 L480.5 164.5 L481.5 155.5 L481.5 145.5 L481.5 183.5 L481.5 155.5 L481.5 145.5 L481.5 183.5 L482.5 155.5 L482.5 164.5 L482.5 174.5 L482.5 164.5 L482.5 183.5 L482.5 174.5 L483.5 155.5 L483.5 174.5 L483.5 155.5 L483.5 164.5 L483.5 155.5 L483.5 164.5 L484.5 174.5 L484.5 164.5 L484.5 155.5 L484.5 164.5 L484.5 136.5 L484.5 155.5 L485.5 183.5 L485.5 174.5 L485.5 164.5 L485.5 155.5 L485.5 164.5 L486.5 155.5 L486.5 136.5 L486.5 145.5 L486.5 164.5 L487.5 136.5 L487.5 164.5 L487.5 155.5 L487.5 174.5 L487.5 164.5 L488.5 155.5 L488.5 126.5 L488.5 164.5 L488.5 145.5 L488.5 155.5 L488.5 145.5 L488.5 164.5 L489.5 174.5 L489.5 155.5 L489.5 145.5 L489.5 155.5 L489.5 164.5 L490.5 174.5 L490.5 164.5 L490.5 155.5 L490.5 174.5 L490.5 155.5 L490.5 164.5 L491.5 155.5 L491.5 164.5 L491.5 155.5 L491.5 145.5 L491.5 164.5 L491.5 174.5 L491.5 155.5 L492.5 164.5 L492.5 174.5 L492.5 164.5 L492.5 155.5 L492.5 145.5 L493.5 145.5 L493.5 164.5 L493.5 174.5 L493.5 164.5 L493.5 155.5 L494.5 136.5 L494.5 164.5 L494.5 155.5 L494.5 164.5 L494.5 155.5 L494.5 136.5 L495.5 136.5 L495.5 164.5 L495.5 183.5 L495.5 164.5 L495.5 174.5 L495.5 145.5 L496.5 155.5 L496.5 174.5 L496.5 145.5 L496.5 155.5 L496.5 164.5 L497.5 145.5 L497.5 155.5 L497.5 164.5 L497.5 155.5 L497.5 145.5 L497.5 155.5 L497.5 145.5 L498.5 155.5 L498.5 136.5 L498.5 145.5 L498.5 164.5 L499.5 145.5 L499.5 155.5 L499.5 145.5 L499.5 155.5 L499.5 145.5 L499.5 164.5 L500.5 174.5 L500.5 145.5 L500.5 164.5 L500.5 174.5 L501.5 174.5 L501.5 155.5 L501.5 164.5 L501.5 155.5 L502.5 164.5 L502.5 145.5 L502.5 183.5 L502.5 155.5 L502.5 145.5 L503.5 145.5 L503.5 174.5 L503.5 155.5 L503.5 174.5 L504.5 164.5 L504.5 145.5 L504.5 155.5 L504.5 145.5 L504.5 174.5 L504.5 155.5 L505.5 145.5 L505.5 174.5 L505.5 155.5 L505.5 164.5 L505.5 155.5 L506.5 164.5 L506.5 155.5 L506.5 145.5 L506.5 155.5 L506.5 145.5 L507.5 155.5 L507.5 164.5 L507.5 145.5 L507.5 155.5 L507.5 164.5 L507.5 174.5 L508.5 155.5 L508.5 164.5 L508.5 145.5 L508.5 164.5 L508.5 136.5 L509.5 155.5 L509.5 164.5 L509.5 155.5 L510.5 155.5 L510.5 145.5 L510.5 155.5 L510.5 136.5 L511.5 174.5 L511.5 164.5 L511.5 174.5 L511.5 155.5 L511.5 145.5 L511.5 155.5 L512.5 174.5 L512.5 164.5 L512.5 174.5 L512.5 145.5 L512.5 164.5 L513.5 145.5 L513.5 164.5 L513.5 174.5 L514.5 136.5 L514.5 145.5 L514.5 174.5 L514.5 155.5 L514.5 183.5 L514.5 155.5 L514.5 164.5 L515.5 155.5 L515.5 145.5 L515.5 174.5 L515.5 145.5 L515.5 155.5 L516.5 155.5 L516.5 174.5 L516.5 164.5 L516.5 155.5 L517.5 136.5 L517.5 145.5 L517.5 126.5 L517.5 136.5 L517.5 126.5 L517.5 145.5 L517.5 136.5 L518.5 126.5 L518.5 136.5 L518.5 117.5 L518.5 145.5 L518.5 136.5 L518.5 126.5 L519.5 145.5 L519.5 126.5 L519.5 107.5 L519.5 136.5 L519.5 145.5 L520.5 126.5 L520.5 145.5 L520.5 136.5 L520.5 145.5 L520.5 136.5 L520.5 145.5 L521.5 155.5 L521.5 145.5 L521.5 126.5 L521.5 145.5 L521.5 136.5 L522.5 117.5 L522.5 136.5 L522.5 145.5 L522.5 136.5 L522.5 126.5 L522.5 145.5 L523.5 145.5 L523.5 126.5 L523.5 155.5 L523.5 126.5 L523.5 145.5 L524.5 126.5 L524.5 155.5 L524.5 145.5 L524.5 126.5 L525.5 117.5 L525.5 145.5 L525.5 126.5 L525.5 145.5 L525.5 117.5 L525.5 136.5 L526.5 126.5 L526.5 136.5 L526.5 126.5 L526.5 136.5 L527.5 145.5 L527.5 136.5 L527.5 145.5 L527.5 136.5 L527.5 126.5 L528.5 136.5 L528.5 117.5 L528.5 136.5 L528.5 126.5 L528.5 136.5 L529.5 136.5 L529.5 126.5 L529.5 145.5 L529.5 126.5 L529.5 145.5 L530.5 145.5 L530.5 136.5 L530.5 155.5 L530.5 164.5 L530.5 145.5 L530.5 126.5 L531.5 136.5 L531.5 117.5 L531.5 136.5 L531.5 155.5 L531.5 145.5 L532.5 117.5 L532.5 136.5 L532.5 117.5 L532.5 145.5 L532.5 136.5 L532.5 117.5 L533.5 136.5 L533.5 145.5 L533.5 107.5 L533.5 136.5 L533.5 145.5 L533.5 126.5 L534.5 145.5 L534.5 126.5 L534.5 136.5 L534.5 117.5 L534.5 145.5 L534.5 136.5 L534.5 145.5 L535.5 126.5 L535.5 136.5 L535.5 145.5 L535.5 136.5 L535.5 117.5 L535.5 155.5 L535.5 117.5 L536.5 136.5 L536.5 145.5 L536.5 126.5 L536.5 155.5 L536.5 136.5 L537.5 126.5 L537.5 117.5 L537.5 136.5 L537.5 145.5 L537.5 126.5 L537.5 155.5 L537.5 136.5 L538.5 145.5 L538.5 136.5 L538.5 145.5 L539.5 136.5 L539.5 126.5 L539.5 145.5 L539.5 136.5 L539.5 145.5 L540.5 136.5 L540.5 145.5 L540.5 126.5 L540.5 136.5 L540.5 145.5 L541.5 136.5 L541.5 126.5 L541.5 136.5 L541.5 145.5 L542.5 136.5 L542.5 145.5 L542.5 136.5 L542.5 145.5 L543.5 145.5 L543.5 136.5 L543.5 145.5 L543.5 136.5 L543.5 126.5 L544.5 145.5 L544.5 126.5 L544.5 136.5 L544.5 126.5 L544.5 145.5 L545.5 145.5 L545.5 117.5 L545.5 145.5 L545.5 136.5 L545.5 126.5 L546.5 136.5 L546.5 145.5 L546.5 136.5 L546.5 145.5 L547.5 117.5 L547.5 126.5 L547.5 136.5 L547.5 145.5 L547.5 126.5 L547.5 145.5 L548.5 117.5 L548.5 136.5 L548.5 145.5 L548.5 136.5 L548.5 117.5 L548.5 126.5 L549.5 145.5 L549.5 136.5 L549.5 145.5 L549.5 136.5 L549.5 126.5 L550.5 164.5 L550.5 126.5 L550.5 145.5 L550.5 126.5 L550.5 136.5 L550.5 145.5 L550.5 136.5 L551.5 126.5 L551.5 145.5 L551.5 136.5 L552.5 126.5 L552.5 136.5 L552.5 145.5 L552.5 126.5 L553.5 126.5 L553.5 145.5 L553.5 136.5 L553.5 107.5 L553.5 145.5 L553.5 126.5 L553.5 145.5 L554.5 136.5 L554.5 126.5 L554.5 117.5 L554.5 145.5 L555.5 136.5 L555.5 145.5 L555.5 136.5 L556.5 145.5 L556.5 126.5 L556.5 155.5 L557.5 107.5 L557.5 145.5 L557.5 136.5 L557.5 126.5 L557.5 155.5 L558.5 126.5 L558.5 145.5 L558.5 126.5 L558.5 117.5 L558.5 145.5 L558.5 117.5 L558.5 136.5 L559.5 126.5 L559.5 136.5 L559.5 145.5 L559.5 136.5 L560.5 155.5 L560.5 126.5 L560.5 155.5 L560.5 136.5 L560.5 145.5 L561.5 126.5 L561.5 136.5 L561.5 155.5 L562.5 145.5 L562.5 126.5 L562.5 117.5 L562.5 126.5 L562.5 145.5"/><path d="M106 420.5h7M109.5 417v7M106 430.5h7M109.5 427v7M107 420.5h7M110.5 417v7M107 430.5h7M110.5 427v7M108 420.5h7M111.5 417v7M108 430.5h7M111.5 427v7M109 411.5h7M112.5 408v7M109 420.5h7M112.5 417v7M109 439.5h7M112.5 436v7M110 420.5h7M113.5 417v7M110 430.5h7M113.5 427v7M111 411.5h7M114.5 408v7M111 420.5h7M114.5 417v7M112 411.5h7M115.5 408v7M112 420.5h7M115.5 417v7M112 430.5h7M115.5 427v7M113 411.5h7M116.5 408v7M113 420.5h7M116.5 417v7M114 401.5h7M117.5 398v7M114 411.5h7M117.5 408v7M114 430.5h7M117.5 427v7M115 401.5h7M118.5 398v7M115 411.5h7M118.5 408v7M115 430.5h7M118.5 427v7M116 401.5h7M119.5 398v7M116 411.5h7M119.5 408v7M116 420.5h7M119.5 417v7M117 411.5h7M120.5 408v7M117 420.5h7M120.5 417v7M118 411.5h7M121.5 408v7M118 420.5h7M121.5 417v7M119 411.5h7M122.5 408v7M119 420.5h7M122.5 417v7M120 325.5h7M123.5 322v7M120 335.5h7M123.5 332v7M120 411.5h7M123.5 408v7M120 420.5h7M123.5 417v7M121 316.5h7M124.5 313v7M121 325.5h7M124.5 322v7M121 335.5h7M124.5 332v7M122 316.5h7M125.5 313v7M122 325.5h7M125.5 322v7M122 335.5h7M125.5 332v7M123 325.5h7M126.5 322v7M123 335.5h7M126.5 332v7M124 316.5h7M127.5 313v7M124 325.5h7M127.5 322v7M124 335.5h7M127.5 332v7M125 316.5h7M128.5 313v7M125 325.5h7M128.5 322v7M125 335.5h7M128.5 332v7M126 316.5h7M129.5 313v7M126 325.5h7M129.5 322v7M126 335.5h7M129.5 332v7M127 316.5h7M130.5 313v7M127 325.5h7M130.5 322v7M128 316.5h7M131.5 313v7M128 325.5h7M131.5 322v7M129 316.5h7M132.5 313v7M129 325.5h7M132.5 322v7M130 316.5h7M133.5 313v7M130 325.5h7M133.5 322v7M131 325.5h7M134.5 322v7M131 335.5h7M134.5 332v7M132 325.5h7M135.5 322v7M132 335.5h7M135.5 332v7M133 316.5h7M136.5 313v7M133 325.5h7M136.5 322v7M133 335.5h7M136.5 332v7M134 306.5h7M137.5 303v7M134 316.5h7M137.5 313v7M135 306.5h7M138.5 303v7M135 316.5h7M138.5 313v7M135 325.5h7M138.5 322v7M135 335.5h7M138.5 332v7M136 306.5h7M139.5 303v7M136 316.5h7M139.5 313v7M136 325.5h7M139.5 322v7M137 306.5h7M140.5 303v7M137 316.5h7M140.5 313v7M138 306.5h7M141.5 303v7M138 316.5h7M141.5 313v7M138 325.5h7M141.5 322v7M139 306.5h7M142.5 303v7M139 316.5h7M142.5 313v7M139 325.5h7M142.5 322v7M140 306.5h7M143.5 303v7M140 316.5h7M143.5 313v7M141 306.5h7M144.5 303v7M141 316.5h7M144.5 313v7M142 306.5h7M145.5 303v7M142 316.5h7M145.5 313v7M142 325.5h7M145.5 322v7M143 306.5h7M146.5 303v7M143 316.5h7M146.5 313v7M143 325.5h7M146.5 322v7M144 306.5h7M147.5 303v7M144 316.5h7M147.5 313v7M144 325.5h7M147.5 322v7M145 306.5h7M148.5 303v7M145 316.5h7M148.5 313v7M145 335.5h7M148.5 332v7M146 306.5h7M149.5 303v7M146 316.5h7M149.5 313v7M146 325.5h7M149.5 322v7M147 306.5h7M150.5 303v7M147 316.5h7M150.5 313v7M147 325.5h7M150.5 322v7M148 316.5h7M151.5 313v7M148 325.5h7M151.5 322v7M149 306.5h7M152.5 303v7M149 316.5h7M152.5 313v7M150 306.5h7M153.5 303v7M150 316.5h7M153.5 313v7M150 335.5h7M153.5 332v7M151 316.5h7M154.5 313v7M151 325.5h7M154.5 322v7M151 335.5h7M154.5 332v7M152 316.5h7M155.5 313v7M152 325.5h7M155.5 322v7M152 335.5h7M155.5 332v7M153 316.5h7M156.5 313v7M153 325.5h7M156.5 322v7M154 316.5h7M157.5 313v7M154 325.5h7M157.5 322v7M154 335.5h7M157.5 332v7M155 325.5h7M158.5 322v7M156 325.5h7M159.5 322v7M156 335.5h7M159.5 332v7M156 344.5h7M159.5 341v7M157 325.5h7M160.5 322v7M157 335.5h7M160.5 332v7M158 325.5h7M161.5 322v7M158 335.5h7M161.5 332v7M158 344.5h7M161.5 341v7M159 325.5h7M162.5 322v7M159 335.5h7M162.5 332v7M160 325.5h7M163.5 322v7M160 335.5h7M163.5 332v7M160 344.5h7M163.5 341v7M161 325.5h7M164.5 322v7M161 335.5h7M164.5 332v7M161 344.5h7M164.5 341v7M162 325.5h7M165.5 322v7M162 335.5h7M165.5 332v7M162 344.5h7M165.5 341v7M163 325.5h7M166.5 322v7M163 335.5h7M166.5 332v7M164 325.5h7M167.5 322v7M164 335.5h7M167.5 332v7M164 344.5h7M167.5 341v7M165 325.5h7M168.5 322v7M165 335.5h7M168.5 332v7M165 344.5h7M168.5 341v7M166 325.5h7M169.5 322v7M166 335.5h7M169.5 332v7M167 335.5h7M170.5 332v7M167 344.5h7M170.5 341v7M168 316.5h7M171.5 313v7M168 325.5h7M171.5 322v7M169 316.5h7M172.5 313v7M169 325.5h7M172.5 322v7M170 316.5h7M173.5 313v7M170 325.5h7M173.5 322v7M170 335.5h7M173.5 332v7M171 316.5h7M174.5 313v7M171 335.5h7M174.5 332v7M172 316.5h7M175.5 313v7M172 325.5h7M175.5 322v7M173 316.5h7M176.5 313v7M173 325.5h7M176.5 322v7M174 306.5h7M177.5 303v7M174 316.5h7M177.5 313v7M174 325.5h7M177.5 322v7M175 306.5h7M178.5 303v7M175 316.5h7M178.5 313v7M175 325.5h7M178.5 322v7M176 306.5h7M179.5 303v7M176 316.5h7M179.5 313v7M176 325.5h7M179.5 322v7M177 306.5h7M180.5 303v7M177 316.5h7M180.5 313v7M177 325.5h7M180.5 322v7M177 335.5h7M180.5 332v7M178 306.5h7M181.5 303v7M178 316.5h7M181.5 313v7M178 325.5h7M181.5 322v7M179 306.5h7M182.5 303v7M179 316.5h7M182.5 313v7M179 325.5h7M182.5 322v7M180 306.5h7M183.5 303v7M180 316.5h7M183.5 313v7M180 325.5h7M183.5 322v7M181 306.5h7M184.5 303v7M181 316.5h7M184.5 313v7M181 325.5h7M184.5 322v7M182 306.5h7M185.5 303v7M182 316.5h7M185.5 313v7M182 325.5h7M185.5 322v7M183 316.5h7M186.5 313v7M183 325.5h7M186.5 322v7M183 335.5h7M186.5 332v7M184 306.5h7M187.5 303v7M184 316.5h7M187.5 313v7M184 325.5h7M187.5 322v7M185 306.5h7M188.5 303v7M185 316.5h7M188.5 313v7M185 325.5h7M188.5 322v7M185 335.5h7M188.5 332v7M186 306.5h7M189.5 303v7M186 316.5h7M189.5 313v7M186 325.5h7M189.5 322v7M187 306.5h7M190.5 303v7M187 316.5h7M190.5 313v7M187 325.5h7M190.5 322v7M188 316.5h7M191.5 313v7M188 325.5h7M191.5 322v7M189 297.5h7M192.5 294v7M189 306.5h7M192.5 303v7M189 316.5h7M192.5 313v7M189 325.5h7M192.5 322v7M190 297.5h7M193.5 294v7M190 306.5h7M193.5 303v7M190 316.5h7M193.5 313v7M190 325.5h7M193.5 322v7M191 306.5h7M194.5 303v7M191 316.5h7M194.5 313v7M191 325.5h7M194.5 322v7M192 297.5h7M195.5 294v7M192 316.5h7M195.5 313v7M192 325.5h7M195.5 322v7M193 306.5h7M196.5 303v7M193 316.5h7M196.5 313v7M193 325.5h7M196.5 322v7M194 306.5h7M197.5 303v7M194 316.5h7M197.5 313v7M194 325.5h7M197.5 322v7M195 306.5h7M198.5 303v7M195 316.5h7M198.5 313v7M195 325.5h7M198.5 322v7M196 306.5h7M199.5 303v7M196 316.5h7M199.5 313v7M196 325.5h7M199.5 322v7M197 297.5h7M200.5 294v7M197 306.5h7M200.5 303v7M197 316.5h7M200.5 313v7M197 325.5h7M200.5 322v7M198 306.5h7M201.5 303v7M198 316.5h7M201.5 313v7M198 325.5h7M201.5 322v7M198 335.5h7M201.5 332v7M199 316.5h7M202.5 313v7M199 325.5h7M202.5 322v7M200 306.5h7M203.5 303v7M200 316.5h7M203.5 313v7M200 325.5h7M203.5 322v7M201 316.5h7M204.5 313v7M201 325.5h7M204.5 322v7M201 335.5h7M204.5 332v7M202 316.5h7M205.5 313v7M202 325.5h7M205.5 322v7M202 335.5h7M205.5 332v7M203 316.5h7M206.5 313v7M203 325.5h7M206.5 322v7M204 306.5h7M207.5 303v7M204 316.5h7M207.5 313v7M204 325.5h7M207.5 322v7M205 316.5h7M208.5 313v7M205 325.5h7M208.5 322v7M206 316.5h7M209.5 313v7M206 325.5h7M209.5 322v7M207 316.5h7M210.5 313v7M207 325.5h7M210.5 322v7M208 316.5h7M211.5 313v7M208 325.5h7M211.5 322v7M209 306.5h7M212.5 303v7M209 316.5h7M212.5 313v7M209 325.5h7M212.5 322v7M210 316.5h7M213.5 313v7M210 325.5h7M213.5 322v7M210 335.5h7M213.5 332v7M211 306.5h7M214.5 303v7M211 316.5h7M214.5 313v7M211 325.5h7M214.5 322v7M212 316.5h7M215.5 313v7M212 325.5h7M215.5 322v7M213 306.5h7M216.5 303v7M213 316.5h7M216.5 313v7M213 325.5h7M216.5 322v7M214 316.5h7M217.5 313v7M214 325.5h7M217.5 322v7M215 316.5h7M218.5 313v7M215 325.5h7M218.5 322v7M216 316.5h7M219.5 313v7M216 325.5h7M219.5 322v7M216 335.5h7M219.5 332v7M217 306.5h7M220.5 303v7M217 316.5h7M220.5 313v7M217 325.5h7M220.5 322v7M218 316.5h7M221.5 313v7M218 325.5h7M221.5 322v7M219 316.5h7M222.5 313v7M219 325.5h7M222.5 322v7M220 316.5h7M223.5 313v7M220 325.5h7M223.5 322v7M221 306.5h7M224.5 303v7M221 316.5h7M224.5 313v7M221 325.5h7M224.5 322v7M222 316.5h7M225.5 313v7M222 325.5h7M225.5 322v7M223 316.5h7M226.5 313v7M223 325.5h7M226.5 322v7M224 316.5h7M227.5 313v7M224 325.5h7M227.5 322v7M225 306.5h7M228.5 303v7M225 316.5h7M228.5 313v7M225 325.5h7M228.5 322v7M226 316.5h7M229.5 313v7M226 325.5h7M229.5 322v7M226 335.5h7M229.5 332v7M227 306.5h7M230.5 303v7M227 316.5h7M230.5 313v7M227 325.5h7M230.5 322v7M227 335.5h7M230.5 332v7M228 316.5h7M231.5 313v7M228 325.5h7M231.5 322v7M229 306.5h7M232.5 303v7M229 316.5h7M232.5 313v7M229 325.5h7M232.5 322v7M230 316.5h7M233.5 313v7M230 325.5h7M233.5 322v7M231 297.5h7M234.5 294v7M231 316.5h7M234.5 313v7M231 325.5h7M234.5 322v7M232 306.5h7M235.5 303v7M232 316.5h7M235.5 313v7M232 325.5h7M235.5 322v7M233 316.5h7M236.5 313v7M233 325.5h7M236.5 322v7M234 316.5h7M237.5 313v7M234 325.5h7M237.5 322v7M235 316.5h7M238.5 313v7M235 325.5h7M238.5 322v7M236 316.5h7M239.5 313v7M236 325.5h7M239.5 322v7M236 335.5h7M239.5 332v7M237 316.5h7M240.5 313v7M237 325.5h7M240.5 322v7M238 306.5h7M241.5 303v7M238 316.5h7M241.5 313v7M238 325.5h7M241.5 322v7M239 316.5h7M242.5 313v7M239 325.5h7M242.5 322v7M240 316.5h7M243.5 313v7M240 325.5h7M243.5 322v7M241 316.5h7M244.5 313v7M241 325.5h7M244.5 322v7M242 316.5h7M245.5 313v7M242 325.5h7M245.5 322v7M243 316.5h7M246.5 313v7M243 325.5h7M246.5 322v7M244 316.5h7M247.5 313v7M244 325.5h7M247.5 322v7M245 316.5h7M248.5 313v7M245 325.5h7M248.5 322v7M246 316.5h7M249.5 313v7M246 325.5h7M249.5 322v7M247 316.5h7M250.5 313v7M247 325.5h7M250.5 322v7M248 306.5h7M251.5 303v7M248 316.5h7M251.5 313v7M248 325.5h7M251.5 322v7M249 316.5h7M252.5 313v7M249 325.5h7M252.5 322v7M250 316.5h7M253.5 313v7M250 325.5h7M253.5 322v7M251 316.5h7M254.5 313v7M251 325.5h7M254.5 322v7M252 316.5h7M255.5 313v7M252 325.5h7M255.5 322v7M253 316.5h7M256.5 313v7M253 325.5h7M256.5 322v7M254 316.5h7M257.5 313v7M254 325.5h7M257.5 322v7M254 335.5h7M257.5 332v7M255 306.5h7M258.5 303v7M255 316.5h7M258.5 313v7M255 325.5h7M258.5 322v7M256 306.5h7M259.5 303v7M256 316.5h7M259.5 313v7M256 325.5h7M259.5 322v7M257 297.5h7M260.5 294v7M257 316.5h7M260.5 313v7M257 325.5h7M260.5 322v7M257 335.5h7M260.5 332v7M258 306.5h7M261.5 303v7M258 316.5h7M261.5 313v7M258 325.5h7M261.5 322v7M258 335.5h7M261.5 332v7M259 306.5h7M262.5 303v7M259 325.5h7M262.5 322v7M260 306.5h7M263.5 303v7M260 316.5h7M263.5 313v7M260 325.5h7M263.5 322v7M261 316.5h7M264.5 313v7M261 325.5h7M264.5 322v7M262 306.5h7M265.5 303v7M262 316.5h7M265.5 313v7M262 325.5h7M265.5 322v7M263 306.5h7M266.5 303v7M263 325.5h7M266.5 322v7M263 335.5h7M266.5 332v7M264 316.5h7M267.5 313v7M264 325.5h7M267.5 322v7M265 316.5h7M268.5 313v7M265 325.5h7M268.5 322v7M266 316.5h7M269.5 313v7M266 325.5h7M269.5 322v7M267 316.5h7M270.5 313v7M267 325.5h7M270.5 322v7M268 316.5h7M271.5 313v7M268 325.5h7M271.5 322v7M269 316.5h7M272.5 313v7M269 325.5h7M272.5 322v7M270 316.5h7M273.5 313v7M270 325.5h7M273.5 322v7M271 306.5h7M274.5 303v7M271 316.5h7M274.5 313v7M271 325.5h7M274.5 322v7M272 306.5h7M275.5 303v7M272 316.5h7M275.5 313v7M272 325.5h7M275.5 322v7M272 335.5h7M275.5 332v7M273 306.5h7M276.5 303v7M273 316.5h7M276.5 313v7M273 325.5h7M276.5 322v7M274 316.5h7M277.5 313v7M274 325.5h7M277.5 322v7M275 306.5h7M278.5 303v7M275 316.5h7M278.5 313v7M275 325.5h7M278.5 322v7M276 316.5h7M279.5 313v7M276 325.5h7M279.5 322v7M277 306.5h7M280.5 303v7M277 316.5h7M280.5 313v7M278 306.5h7M281.5 303v7M278 316.5h7M281.5 313v7M278 325.5h7M281.5 322v7M279 306.5h7M282.5 303v7M279 316.5h7M282.5 313v7M280 306.5h7M283.5 303v7M281 306.5h7M284.5 303v7M281 316.5h7M284.5 313v7M281 325.5h7M284.5 322v7M282 306.5h7M285.5 303v7M282 316.5h7M285.5 313v7M283 306.5h7M286.5 303v7M283 316.5h7M286.5 313v7M283 325.5h7M286.5 322v7M284 306.5h7M287.5 303v7M284 316.5h7M287.5 313v7M284 325.5h7M287.5 322v7M285 306.5h7M288.5 303v7M285 316.5h7M288.5 313v7M285 325.5h7M288.5 322v7M286 306.5h7M289.5 303v7M286 316.5h7M289.5 313v7M287 306.5h7M290.5 303v7M287 316.5h7M290.5 313v7M287 325.5h7M290.5 322v7M288 306.5h7M291.5 303v7M288 316.5h7M291.5 313v7M288 325.5h7M291.5 322v7M289 306.5h7M292.5 303v7M289 316.5h7M292.5 313v7M289 325.5h7M292.5 322v7M290 306.5h7M293.5 303v7M290 316.5h7M293.5 313v7M291 306.5h7M294.5 303v7M291 316.5h7M294.5 313v7M291 325.5h7M294.5 322v7M292 306.5h7M295.5 303v7M292 316.5h7M295.5 313v7M292 325.5h7M295.5 322v7M293 287.5h7M296.5 284v7M293 297.5h7M296.5 294v7M293 306.5h7M296.5 303v7M294 287.5h7M297.5 284v7M294 297.5h7M297.5 294v7M294 306.5h7M297.5 303v7M294 316.5h7M297.5 313v7M295 287.5h7M298.5 284v7M295 306.5h7M298.5 303v7M295 316.5h7M298.5 313v7M296 287.5h7M299.5 284v7M296 306.5h7M299.5 303v7M297 287.5h7M300.5 284v7M297 297.5h7M300.5 294v7M297 306.5h7M300.5 303v7M298 278.5h7M301.5 275v7M298 287.5h7M301.5 284v7M298 297.5h7M301.5 294v7M298 306.5h7M301.5 303v7M299 287.5h7M302.5 284v7M299 297.5h7M302.5 294v7M299 306.5h7M302.5 303v7M299 316.5h7M302.5 313v7M300 297.5h7M303.5 294v7M300 306.5h7M303.5 303v7M301 287.5h7M304.5 284v7M301 297.5h7M304.5 294v7M301 306.5h7M304.5 303v7M301 316.5h7M304.5 313v7M302 287.5h7M305.5 284v7M302 297.5h7M305.5 294v7M302 306.5h7M305.5 303v7M302 316.5h7M305.5 313v7M303 287.5h7M306.5 284v7M303 297.5h7M306.5 294v7M303 306.5h7M306.5 303v7M303 316.5h7M306.5 313v7M304 287.5h7M307.5 284v7M304 297.5h7M307.5 294v7M304 306.5h7M307.5 303v7M304 316.5h7M307.5 313v7M305 287.5h7M308.5 284v7M305 297.5h7M308.5 294v7M305 316.5h7M308.5 313v7M306 278.5h7M309.5 275v7M306 297.5h7M309.5 294v7M306 306.5h7M309.5 303v7M306 316.5h7M309.5 313v7M307 287.5h7M310.5 284v7M307 297.5h7M310.5 294v7M307 306.5h7M310.5 303v7M308 287.5h7M311.5 284v7M308 297.5h7M311.5 294v7M308 306.5h7M311.5 303v7M308 316.5h7M311.5 313v7M309 287.5h7M312.5 284v7M309 297.5h7M312.5 294v7M309 306.5h7M312.5 303v7M309 316.5h7M312.5 313v7M310 287.5h7M313.5 284v7M310 297.5h7M313.5 294v7M310 306.5h7M313.5 303v7M310 316.5h7M313.5 313v7M311 287.5h7M314.5 284v7M311 297.5h7M314.5 294v7M311 306.5h7M314.5 303v7M312 287.5h7M315.5 284v7M312 297.5h7M315.5 294v7M312 306.5h7M315.5 303v7M312 316.5h7M315.5 313v7M313 287.5h7M316.5 284v7M313 297.5h7M316.5 294v7M313 306.5h7M316.5 303v7M313 316.5h7M316.5 313v7M314 287.5h7M317.5 284v7M314 297.5h7M317.5 294v7M314 306.5h7M317.5 303v7M314 316.5h7M317.5 313v7M315 287.5h7M318.5 284v7M315 306.5h7M318.5 303v7M315 316.5h7M318.5 313v7M316 278.5h7M319.5 275v7M316 287.5h7M319.5 284v7M316 297.5h7M319.5 294v7M316 306.5h7M319.5 303v7M316 316.5h7M319.5 313v7M317 287.5h7M320.5 284v7M317 297.5h7M320.5 294v7M317 306.5h7M320.5 303v7M317 316.5h7M320.5 313v7M318 287.5h7M321.5 284v7M318 297.5h7M321.5 294v7M318 306.5h7M321.5 303v7M318 316.5h7M321.5 313v7M319 297.5h7M322.5 294v7M319 306.5h7M322.5 303v7M319 316.5h7M322.5 313v7M320 287.5h7M323.5 284v7M320 306.5h7M323.5 303v7M321 297.5h7M324.5 294v7M321 306.5h7M324.5 303v7M322 287.5h7M325.5 284v7M322 297.5h7M325.5 294v7M323 268.5h7M326.5 265v7M323 278.5h7M326.5 275v7M323 287.5h7M326.5 284v7M323 306.5h7M326.5 303v7M324 278.5h7M327.5 275v7M324 287.5h7M327.5 284v7M324 297.5h7M327.5 294v7M324 306.5h7M327.5 303v7M325 278.5h7M328.5 275v7M325 287.5h7M328.5 284v7M325 297.5h7M328.5 294v7M325 306.5h7M328.5 303v7M325 335.5h7M328.5 332v7M326 278.5h7M329.5 275v7M326 287.5h7M329.5 284v7M326 297.5h7M329.5 294v7M326 306.5h7M329.5 303v7M327 278.5h7M330.5 275v7M327 287.5h7M330.5 284v7M327 306.5h7M330.5 303v7M328 259.5h7M331.5 256v7M328 268.5h7M331.5 265v7M328 287.5h7M331.5 284v7M328 297.5h7M331.5 294v7M329 278.5h7M332.5 275v7M329 287.5h7M332.5 284v7M329 297.5h7M332.5 294v7M329 306.5h7M332.5 303v7M330 259.5h7M333.5 256v7M330 278.5h7M333.5 275v7M330 287.5h7M333.5 284v7M330 297.5h7M333.5 294v7M331 278.5h7M334.5 275v7M331 287.5h7M334.5 284v7M331 297.5h7M334.5 294v7M331 306.5h7M334.5 303v7M332 259.5h7M335.5 256v7M332 287.5h7M335.5 284v7M332 297.5h7M335.5 294v7M333 268.5h7M336.5 265v7M333 278.5h7M336.5 275v7M333 287.5h7M336.5 284v7M333 297.5h7M336.5 294v7M334 259.5h7M337.5 256v7M334 268.5h7M337.5 265v7M334 287.5h7M337.5 284v7M334 297.5h7M337.5 294v7M335 278.5h7M338.5 275v7M335 287.5h7M338.5 284v7M335 297.5h7M338.5 294v7M336 278.5h7M339.5 275v7M336 287.5h7M339.5 284v7M336 297.5h7M339.5 294v7M337 278.5h7M340.5 275v7M337 287.5h7M340.5 284v7M337 297.5h7M340.5 294v7M338 259.5h7M341.5 256v7M338 268.5h7M341.5 265v7M338 278.5h7M341.5 275v7M338 287.5h7M341.5 284v7M339 268.5h7M342.5 265v7M339 278.5h7M342.5 275v7M339 287.5h7M342.5 284v7M339 297.5h7M342.5 294v7M340 268.5h7M343.5 265v7M340 278.5h7M343.5 275v7M340 287.5h7M343.5 284v7M340 297.5h7M343.5 294v7M341 268.5h7M344.5 265v7M341 278.5h7M344.5 275v7M341 287.5h7M344.5 284v7M341 297.5h7M344.5 294v7M342 268.5h7M345.5 265v7M342 278.5h7M345.5 275v7M342 287.5h7M345.5 284v7M343 250.5h7M346.5 247v7M343 259.5h7M346.5 256v7M343 268.5h7M346.5 265v7M343 278.5h7M346.5 275v7M343 297.5h7M346.5 294v7M344 250.5h7M347.5 247v7M344 259.5h7M347.5 256v7M344 268.5h7M347.5 265v7M345 240.5h7M348.5 237v7M345 250.5h7M348.5 247v7M345 259.5h7M348.5 256v7M345 278.5h7M348.5 275v7M345 287.5h7M348.5 284v7M345 297.5h7M348.5 294v7M346 231.5h7M349.5 228v7M346 240.5h7M349.5 237v7M346 250.5h7M349.5 247v7M346 259.5h7M349.5 256v7M346 278.5h7M349.5 275v7M347 250.5h7M350.5 247v7M347 259.5h7M350.5 256v7M347 268.5h7M350.5 265v7M347 278.5h7M350.5 275v7M347 297.5h7M350.5 294v7M348 259.5h7M351.5 256v7M348 268.5h7M351.5 265v7M348 278.5h7M351.5 275v7M349 259.5h7M352.5 256v7M349 268.5h7M352.5 265v7M349 278.5h7M352.5 275v7M349 287.5h7M352.5 284v7M350 259.5h7M353.5 256v7M350 268.5h7M353.5 265v7M350 287.5h7M353.5 284v7M350 297.5h7M353.5 294v7M351 240.5h7M354.5 237v7M351 259.5h7M354.5 256v7M351 268.5h7M354.5 265v7M351 278.5h7M354.5 275v7M352 259.5h7M355.5 256v7M352 268.5h7M355.5 265v7M352 278.5h7M355.5 275v7M352 287.5h7M355.5 284v7M353 259.5h7M356.5 256v7M353 268.5h7M356.5 265v7M353 297.5h7M356.5 294v7M354 240.5h7M357.5 237v7M354 259.5h7M357.5 256v7M354 268.5h7M357.5 265v7M354 278.5h7M357.5 275v7M355 250.5h7M358.5 247v7M355 259.5h7M358.5 256v7M355 268.5h7M358.5 265v7M356 250.5h7M359.5 247v7M356 259.5h7M359.5 256v7M356 268.5h7M359.5 265v7M356 278.5h7M359.5 275v7M357 250.5h7M360.5 247v7M357 259.5h7M360.5 256v7M357 268.5h7M360.5 265v7M357 278.5h7M360.5 275v7M357 297.5h7M360.5 294v7M358 259.5h7M361.5 256v7M358 268.5h7M361.5 265v7M358 278.5h7M361.5 275v7M359 250.5h7M362.5 247v7M359 259.5h7M362.5 256v7M359 268.5h7M362.5 265v7M359 278.5h7M362.5 275v7M360 259.5h7M363.5 256v7M360 268.5h7M363.5 265v7M360 278.5h7M363.5 275v7M361 250.5h7M364.5 247v7M361 259.5h7M364.5 256v7M361 268.5h7M364.5 265v7M362 250.5h7M365.5 247v7M362 259.5h7M365.5 256v7M362 278.5h7M365.5 275v7M363 250.5h7M366.5 247v7M363 259.5h7M366.5 256v7M363 268.5h7M366.5 265v7M363 278.5h7M366.5 275v7M364 240.5h7M367.5 237v7M364 250.5h7M367.5 247v7M364 259.5h7M367.5 256v7M364 268.5h7M367.5 265v7M364 278.5h7M367.5 275v7M365 250.5h7M368.5 247v7M365 259.5h7M368.5 256v7M365 268.5h7M368.5 265v7M365 278.5h7M368.5 275v7M366 259.5h7M369.5 256v7M366 268.5h7M369.5 265v7M367 250.5h7M370.5 247v7M367 259.5h7M370.5 256v7M367 268.5h7M370.5 265v7M368 259.5h7M371.5 256v7M368 268.5h7M371.5 265v7M368 278.5h7M371.5 275v7M369 259.5h7M372.5 256v7M369 268.5h7M372.5 265v7M369 278.5h7M372.5 275v7M369 287.5h7M372.5 284v7M370 193.5h7M373.5 190v7M370 202.5h7M373.5 199v7M370 250.5h7M373.5 247v7M370 259.5h7M373.5 256v7M370 268.5h7M373.5 265v7M370 278.5h7M373.5 275v7M371 183.5h7M374.5 180v7M371 193.5h7M374.5 190v7M371 240.5h7M374.5 237v7M371 259.5h7M374.5 256v7M371 268.5h7M374.5 265v7M371 278.5h7M374.5 275v7M372 231.5h7M375.5 228v7M372 259.5h7M375.5 256v7M372 268.5h7M375.5 265v7M372 278.5h7M375.5 275v7M372 297.5h7M375.5 294v7M373 250.5h7M376.5 247v7M373 259.5h7M376.5 256v7M373 268.5h7M376.5 265v7M373 278.5h7M376.5 275v7M374 259.5h7M377.5 256v7M374 268.5h7M377.5 265v7M374 278.5h7M377.5 275v7M374 287.5h7M377.5 284v7M375 250.5h7M378.5 247v7M375 259.5h7M378.5 256v7M375 278.5h7M378.5 275v7M376 250.5h7M379.5 247v7M376 259.5h7M379.5 256v7M376 268.5h7M379.5 265v7M376 278.5h7M379.5 275v7M376 287.5h7M379.5 284v7M377 259.5h7M380.5 256v7M377 278.5h7M380.5 275v7M378 250.5h7M381.5 247v7M378 268.5h7M381.5 265v7M378 278.5h7M381.5 275v7M378 287.5h7M381.5 284v7M379 250.5h7M382.5 247v7M379 259.5h7M382.5 256v7M379 268.5h7M382.5 265v7M379 278.5h7M382.5 275v7M380 250.5h7M383.5 247v7M380 259.5h7M383.5 256v7M380 268.5h7M383.5 265v7M380 278.5h7M383.5 275v7M381 250.5h7M384.5 247v7M381 259.5h7M384.5 256v7M381 268.5h7M384.5 265v7M381 278.5h7M384.5 275v7M382 250.5h7M385.5 247v7M382 259.5h7M385.5 256v7M382 268.5h7M385.5 265v7M382 287.5h7M385.5 284v7M383 250.5h7M386.5 247v7M383 268.5h7M386.5 265v7M384 240.5h7M387.5 237v7M384 250.5h7M387.5 247v7M384 259.5h7M387.5 256v7M385 240.5h7M388.5 237v7M385 250.5h7M388.5 247v7M385 268.5h7M388.5 265v7M386 240.5h7M389.5 237v7M386 250.5h7M389.5 247v7M386 268.5h7M389.5 265v7M387 240.5h7M390.5 237v7M387 250.5h7M390.5 247v7M387 259.5h7M390.5 256v7M387 268.5h7M390.5 265v7M388 250.5h7M391.5 247v7M388 259.5h7M391.5 256v7M389 240.5h7M392.5 237v7M389 259.5h7M392.5 256v7M390 240.5h7M393.5 237v7M390 250.5h7M393.5 247v7M390 259.5h7M393.5 256v7M390 268.5h7M393.5 265v7M391 240.5h7M394.5 237v7M391 250.5h7M394.5 247v7M391 259.5h7M394.5 256v7M391 278.5h7M394.5 275v7M392 240.5h7M395.5 237v7M392 250.5h7M395.5 247v7M392 259.5h7M395.5 256v7M392 278.5h7M395.5 275v7M393 240.5h7M396.5 237v7M393 250.5h7M396.5 247v7M393 268.5h7M396.5 265v7M394 250.5h7M397.5 247v7M394 259.5h7M397.5 256v7M394 278.5h7M397.5 275v7M395 250.5h7M398.5 247v7M395 259.5h7M398.5 256v7M395 268.5h7M398.5 265v7M396 259.5h7M399.5 256v7M396 268.5h7M399.5 265v7M396 278.5h7M399.5 275v7M397 240.5h7M400.5 237v7M397 250.5h7M400.5 247v7M397 259.5h7M400.5 256v7M397 268.5h7M400.5 265v7M398 240.5h7M401.5 237v7M398 250.5h7M401.5 247v7M398 259.5h7M401.5 256v7M399 240.5h7M402.5 237v7M399 250.5h7M402.5 247v7M399 259.5h7M402.5 256v7M399 268.5h7M402.5 265v7M400 250.5h7M403.5 247v7M400 259.5h7M403.5 256v7M400 278.5h7M403.5 275v7M401 240.5h7M404.5 237v7M401 259.5h7M404.5 256v7M402 240.5h7M405.5 237v7M402 250.5h7M405.5 247v7M402 259.5h7M405.5 256v7M403 240.5h7M406.5 237v7M403 250.5h7M406.5 247v7M403 268.5h7M406.5 265v7M404 250.5h7M407.5 247v7M404 259.5h7M407.5 256v7M404 268.5h7M407.5 265v7M404 278.5h7M407.5 275v7M405 164.5h7M408.5 161v7M405 174.5h7M408.5 171v7M405 183.5h7M408.5 180v7M406 155.5h7M409.5 152v7M406 164.5h7M409.5 161v7M406 174.5h7M409.5 171v7M406 183.5h7M409.5 180v7M407 155.5h7M410.5 152v7M407 164.5h7M410.5 161v7M407 174.5h7M410.5 171v7M407 183.5h7M410.5 180v7M407 193.5h7M410.5 190v7M408 164.5h7M411.5 161v7M408 174.5h7M411.5 171v7M408 183.5h7M411.5 180v7M408 193.5h7M411.5 190v7M409 164.5h7M412.5 161v7M409 174.5h7M412.5 171v7M409 183.5h7M412.5 180v7M410 155.5h7M413.5 152v7M410 164.5h7M413.5 161v7M410 174.5h7M413.5 171v7M410 183.5h7M413.5 180v7M411 155.5h7M414.5 152v7M411 164.5h7M414.5 161v7M411 174.5h7M414.5 171v7M411 183.5h7M414.5 180v7M411 193.5h7M414.5 190v7M412 155.5h7M415.5 152v7M412 164.5h7M415.5 161v7M412 174.5h7M415.5 171v7M412 183.5h7M415.5 180v7M412 193.5h7M415.5 190v7M412 202.5h7M415.5 199v7M413 155.5h7M416.5 152v7M413 174.5h7M416.5 171v7M413 183.5h7M416.5 180v7M413 193.5h7M416.5 190v7M413 202.5h7M416.5 199v7M413 212.5h7M416.5 209v7M414 155.5h7M417.5 152v7M414 164.5h7M417.5 161v7M414 174.5h7M417.5 171v7M414 183.5h7M417.5 180v7M414 193.5h7M417.5 190v7M415 164.5h7M418.5 161v7M415 174.5h7M418.5 171v7M415 183.5h7M418.5 180v7M415 193.5h7M418.5 190v7M416 155.5h7M419.5 152v7M416 164.5h7M419.5 161v7M416 174.5h7M419.5 171v7M416 183.5h7M419.5 180v7M417 155.5h7M420.5 152v7M417 164.5h7M420.5 161v7M417 174.5h7M420.5 171v7M417 183.5h7M420.5 180v7M417 193.5h7M420.5 190v7M418 145.5h7M421.5 142v7M418 155.5h7M421.5 152v7M418 164.5h7M421.5 161v7M418 174.5h7M421.5 171v7M418 183.5h7M421.5 180v7M419 155.5h7M422.5 152v7M419 164.5h7M422.5 161v7M419 183.5h7M422.5 180v7M420 155.5h7M423.5 152v7M420 164.5h7M423.5 161v7M420 174.5h7M423.5 171v7M420 183.5h7M423.5 180v7M421 155.5h7M424.5 152v7M421 174.5h7M424.5 171v7M421 183.5h7M424.5 180v7M422 155.5h7M425.5 152v7M422 164.5h7M425.5 161v7M422 174.5h7M425.5 171v7M422 183.5h7M425.5 180v7M422 193.5h7M425.5 190v7M423 155.5h7M426.5 152v7M423 164.5h7M426.5 161v7M423 174.5h7M426.5 171v7M423 183.5h7M426.5 180v7M424 155.5h7M427.5 152v7M424 164.5h7M427.5 161v7M424 174.5h7M427.5 171v7M424 183.5h7M427.5 180v7M425 164.5h7M428.5 161v7M425 174.5h7M428.5 171v7M425 193.5h7M428.5 190v7M426 155.5h7M429.5 152v7M426 164.5h7M429.5 161v7M426 174.5h7M429.5 171v7M427 155.5h7M430.5 152v7M427 164.5h7M430.5 161v7M427 183.5h7M430.5 180v7M428 145.5h7M431.5 142v7M428 155.5h7M431.5 152v7M428 174.5h7M431.5 171v7M428 193.5h7M431.5 190v7M429 164.5h7M432.5 161v7M429 174.5h7M432.5 171v7M430 164.5h7M433.5 161v7M430 174.5h7M433.5 171v7M430 183.5h7M433.5 180v7M431 164.5h7M434.5 161v7M431 174.5h7M434.5 171v7M431 183.5h7M434.5 180v7M432 155.5h7M435.5 152v7M432 164.5h7M435.5 161v7M432 174.5h7M435.5 171v7M432 183.5h7M435.5 180v7M433 155.5h7M436.5 152v7M433 164.5h7M436.5 161v7M433 174.5h7M436.5 171v7M433 183.5h7M436.5 180v7M433 193.5h7M436.5 190v7M434 155.5h7M437.5 152v7M434 164.5h7M437.5 161v7M434 174.5h7M437.5 171v7M434 183.5h7M437.5 180v7M435 155.5h7M438.5 152v7M435 174.5h7M438.5 171v7M435 183.5h7M438.5 180v7M436 164.5h7M439.5 161v7M436 174.5h7M439.5 171v7M436 183.5h7M439.5 180v7M437 164.5h7M440.5 161v7M437 174.5h7M440.5 171v7M437 183.5h7M440.5 180v7M437 193.5h7M440.5 190v7M438 164.5h7M441.5 161v7M438 174.5h7M441.5 171v7M438 183.5h7M441.5 180v7M439 145.5h7M442.5 142v7M439 164.5h7M442.5 161v7M439 174.5h7M442.5 171v7M439 183.5h7M442.5 180v7M440 155.5h7M443.5 152v7M440 164.5h7M443.5 161v7M440 174.5h7M443.5 171v7M440 183.5h7M443.5 180v7M441 155.5h7M444.5 152v7M441 164.5h7M444.5 161v7M441 183.5h7M444.5 180v7M442 174.5h7M445.5 171v7M442 193.5h7M445.5 190v7M443 164.5h7M446.5 161v7M443 174.5h7M446.5 171v7M443 183.5h7M446.5 180v7M443 202.5h7M446.5 199v7M444 174.5h7M447.5 171v7M444 183.5h7M447.5 180v7M444 193.5h7M447.5 190v7M444 202.5h7M447.5 199v7M445 164.5h7M448.5 161v7M445 183.5h7M448.5 180v7M445 193.5h7M448.5 190v7M445 202.5h7M448.5 199v7M446 164.5h7M449.5 161v7M446 174.5h7M449.5 171v7M446 183.5h7M449.5 180v7M446 193.5h7M449.5 190v7M446 212.5h7M449.5 209v7M447 164.5h7M450.5 161v7M447 174.5h7M450.5 171v7M447 183.5h7M450.5 180v7M447 193.5h7M450.5 190v7M448 174.5h7M451.5 171v7M448 183.5h7M451.5 180v7M448 193.5h7M451.5 190v7M449 174.5h7M452.5 171v7M449 183.5h7M452.5 180v7M449 193.5h7M452.5 190v7M449 202.5h7M452.5 199v7M450 174.5h7M453.5 171v7M450 183.5h7M453.5 180v7M450 193.5h7M453.5 190v7M451 174.5h7M454.5 171v7M451 183.5h7M454.5 180v7M451 193.5h7M454.5 190v7M452 164.5h7M455.5 161v7M452 174.5h7M455.5 171v7M452 183.5h7M455.5 180v7M452 193.5h7M455.5 190v7M452 202.5h7M455.5 199v7M453 155.5h7M456.5 152v7M453 164.5h7M456.5 161v7M453 174.5h7M456.5 171v7M453 183.5h7M456.5 180v7M454 155.5h7M457.5 152v7M454 164.5h7M457.5 161v7M454 174.5h7M457.5 171v7M454 183.5h7M457.5 180v7M455 155.5h7M458.5 152v7M455 164.5h7M458.5 161v7M455 174.5h7M458.5 171v7M455 183.5h7M458.5 180v7M456 155.5h7M459.5 152v7M456 164.5h7M459.5 161v7M456 174.5h7M459.5 171v7M457 145.5h7M460.5 142v7M457 155.5h7M460.5 152v7M457 164.5h7M460.5 161v7M457 174.5h7M460.5 171v7M457 183.5h7M460.5 180v7M458 164.5h7M461.5 161v7M458 174.5h7M461.5 171v7M458 183.5h7M461.5 180v7M459 155.5h7M462.5 152v7M459 174.5h7M462.5 171v7M459 193.5h7M462.5 190v7M460 155.5h7M463.5 152v7M460 164.5h7M463.5 161v7M460 174.5h7M463.5 171v7M460 183.5h7M463.5 180v7M461 164.5h7M464.5 161v7M461 174.5h7M464.5 171v7M461 183.5h7M464.5 180v7M462 155.5h7M465.5 152v7M462 164.5h7M465.5 161v7M462 174.5h7M465.5 171v7M462 183.5h7M465.5 180v7M463 155.5h7M466.5 152v7M463 164.5h7M466.5 161v7M463 174.5h7M466.5 171v7M463 183.5h7M466.5 180v7M464 145.5h7M467.5 142v7M464 164.5h7M467.5 161v7M464 174.5h7M467.5 171v7M464 183.5h7M467.5 180v7M465 145.5h7M468.5 142v7M465 155.5h7M468.5 152v7M465 164.5h7M468.5 161v7M465 174.5h7M468.5 171v7M465 183.5h7M468.5 180v7M466 145.5h7M469.5 142v7M466 155.5h7M469.5 152v7M466 164.5h7M469.5 161v7M466 174.5h7M469.5 171v7M466 183.5h7M469.5 180v7M467 155.5h7M470.5 152v7M467 164.5h7M470.5 161v7M467 174.5h7M470.5 171v7M467 183.5h7M470.5 180v7M468 155.5h7M471.5 152v7M468 164.5h7M471.5 161v7M468 174.5h7M471.5 171v7M469 155.5h7M472.5 152v7M469 164.5h7M472.5 161v7M469 183.5h7M472.5 180v7M469 193.5h7M472.5 190v7M470 155.5h7M473.5 152v7M470 174.5h7M473.5 171v7M470 183.5h7M473.5 180v7M471 155.5h7M474.5 152v7M471 164.5h7M474.5 161v7M471 174.5h7M474.5 171v7M471 183.5h7M474.5 180v7M472 155.5h7M475.5 152v7M472 174.5h7M475.5 171v7M472 183.5h7M475.5 180v7M473 145.5h7M476.5 142v7M473 155.5h7M476.5 152v7M473 164.5h7M476.5 161v7M473 174.5h7M476.5 171v7M474 155.5h7M477.5 152v7M474 164.5h7M477.5 161v7M474 174.5h7M477.5 171v7M474 183.5h7M477.5 180v7M475 155.5h7M478.5 152v7M475 164.5h7M478.5 161v7M475 174.5h7M478.5 171v7M475 183.5h7M478.5 180v7M476 145.5h7M479.5 142v7M476 164.5h7M479.5 161v7M476 174.5h7M479.5 171v7M476 193.5h7M479.5 190v7M477 145.5h7M480.5 142v7M477 164.5h7M480.5 161v7M477 174.5h7M480.5 171v7M478 145.5h7M481.5 142v7M478 155.5h7M481.5 152v7M478 183.5h7M481.5 180v7M479 155.5h7M482.5 152v7M479 164.5h7M482.5 161v7M479 174.5h7M482.5 171v7M479 183.5h7M482.5 180v7M480 155.5h7M483.5 152v7M480 164.5h7M483.5 161v7M480 174.5h7M483.5 171v7M481 136.5h7M484.5 133v7M481 155.5h7M484.5 152v7M481 164.5h7M484.5 161v7M481 174.5h7M484.5 171v7M482 155.5h7M485.5 152v7M482 164.5h7M485.5 161v7M482 174.5h7M485.5 171v7M482 183.5h7M485.5 180v7M483 136.5h7M486.5 133v7M483 145.5h7M486.5 142v7M483 155.5h7M486.5 152v7M483 164.5h7M486.5 161v7M484 136.5h7M487.5 133v7M484 155.5h7M487.5 152v7M484 164.5h7M487.5 161v7M484 174.5h7M487.5 171v7M485 126.5h7M488.5 123v7M485 145.5h7M488.5 142v7M485 155.5h7M488.5 152v7M485 164.5h7M488.5 161v7M486 145.5h7M489.5 142v7M486 155.5h7M489.5 152v7M486 164.5h7M489.5 161v7M486 174.5h7M489.5 171v7M487 155.5h7M490.5 152v7M487 164.5h7M490.5 161v7M487 174.5h7M490.5 171v7M488 145.5h7M491.5 142v7M488 155.5h7M491.5 152v7M488 164.5h7M491.5 161v7M488 174.5h7M491.5 171v7M489 145.5h7M492.5 142v7M489 155.5h7M492.5 152v7M489 164.5h7M492.5 161v7M489 174.5h7M492.5 171v7M490 145.5h7M493.5 142v7M490 155.5h7M493.5 152v7M490 164.5h7M493.5 161v7M490 174.5h7M493.5 171v7M491 136.5h7M494.5 133v7M491 155.5h7M494.5 152v7M491 164.5h7M494.5 161v7M492 136.5h7M495.5 133v7M492 145.5h7M495.5 142v7M492 164.5h7M495.5 161v7M492 174.5h7M495.5 171v7M492 183.5h7M495.5 180v7M493 145.5h7M496.5 142v7M493 155.5h7M496.5 152v7M493 164.5h7M496.5 161v7M493 174.5h7M496.5 171v7M494 145.5h7M497.5 142v7M494 155.5h7M497.5 152v7M494 164.5h7M497.5 161v7M495 136.5h7M498.5 133v7M495 145.5h7M498.5 142v7M495 155.5h7M498.5 152v7M495 164.5h7M498.5 161v7M496 145.5h7M499.5 142v7M496 155.5h7M499.5 152v7M496 164.5h7M499.5 161v7M497 145.5h7M500.5 142v7M497 164.5h7M500.5 161v7M497 174.5h7M500.5 171v7M498 155.5h7M501.5 152v7M498 164.5h7M501.5 161v7M498 174.5h7M501.5 171v7M499 145.5h7M502.5 142v7M499 155.5h7M502.5 152v7M499 164.5h7M502.5 161v7M499 183.5h7M502.5 180v7M500 145.5h7M503.5 142v7M500 155.5h7M503.5 152v7M500 174.5h7M503.5 171v7M501 145.5h7M504.5 142v7M501 155.5h7M504.5 152v7M501 164.5h7M504.5 161v7M501 174.5h7M504.5 171v7M502 145.5h7M505.5 142v7M502 155.5h7M505.5 152v7M502 164.5h7M505.5 161v7M502 174.5h7M505.5 171v7M503 145.5h7M506.5 142v7M503 155.5h7M506.5 152v7M503 164.5h7M506.5 161v7M504 145.5h7M507.5 142v7M504 155.5h7M507.5 152v7M504 164.5h7M507.5 161v7M504 174.5h7M507.5 171v7M505 136.5h7M508.5 133v7M505 145.5h7M508.5 142v7M505 155.5h7M508.5 152v7M505 164.5h7M508.5 161v7M506 155.5h7M509.5 152v7M506 164.5h7M509.5 161v7M507 136.5h7M510.5 133v7M507 145.5h7M510.5 142v7M507 155.5h7M510.5 152v7M508 145.5h7M511.5 142v7M508 155.5h7M511.5 152v7M508 164.5h7M511.5 161v7M508 174.5h7M511.5 171v7M509 145.5h7M512.5 142v7M509 164.5h7M512.5 161v7M509 174.5h7M512.5 171v7M510 145.5h7M513.5 142v7M510 164.5h7M513.5 161v7M510 174.5h7M513.5 171v7M511 136.5h7M514.5 133v7M511 145.5h7M514.5 142v7M511 155.5h7M514.5 152v7M511 164.5h7M514.5 161v7M511 174.5h7M514.5 171v7M511 183.5h7M514.5 180v7M512 145.5h7M515.5 142v7M512 155.5h7M515.5 152v7M512 174.5h7M515.5 171v7M513 155.5h7M516.5 152v7M513 164.5h7M516.5 161v7M513 174.5h7M516.5 171v7M514 126.5h7M517.5 123v7M514 136.5h7M517.5 133v7M514 145.5h7M517.5 142v7M515 117.5h7M518.5 114v7M515 126.5h7M518.5 123v7M515 136.5h7M518.5 133v7M515 145.5h7M518.5 142v7M516 107.5h7M519.5 104v7M516 126.5h7M519.5 123v7M516 136.5h7M519.5 133v7M516 145.5h7M519.5 142v7M517 126.5h7M520.5 123v7M517 136.5h7M520.5 133v7M517 145.5h7M520.5 142v7M518 126.5h7M521.5 123v7M518 136.5h7M521.5 133v7M518 145.5h7M521.5 142v7M518 155.5h7M521.5 152v7M519 117.5h7M522.5 114v7M519 126.5h7M522.5 123v7M519 136.5h7M522.5 133v7M519 145.5h7M522.5 142v7M520 126.5h7M523.5 123v7M520 145.5h7M523.5 142v7M520 155.5h7M523.5 152v7M521 126.5h7M524.5 123v7M521 145.5h7M524.5 142v7M521 155.5h7M524.5 152v7M522 117.5h7M525.5 114v7M522 126.5h7M525.5 123v7M522 136.5h7M525.5 133v7M522 145.5h7M525.5 142v7M523 126.5h7M526.5 123v7M523 136.5h7M526.5 133v7M524 126.5h7M527.5 123v7M524 136.5h7M527.5 133v7M524 145.5h7M527.5 142v7M525 117.5h7M528.5 114v7M525 126.5h7M528.5 123v7M525 136.5h7M528.5 133v7M526 126.5h7M529.5 123v7M526 136.5h7M529.5 133v7M526 145.5h7M529.5 142v7M527 126.5h7M530.5 123v7M527 136.5h7M530.5 133v7M527 145.5h7M530.5 142v7M527 155.5h7M530.5 152v7M527 164.5h7M530.5 161v7M528 117.5h7M531.5 114v7M528 136.5h7M531.5 133v7M528 145.5h7M531.5 142v7M528 155.5h7M531.5 152v7M529 117.5h7M532.5 114v7M529 136.5h7M532.5 133v7M529 145.5h7M532.5 142v7M530 107.5h7M533.5 104v7M530 126.5h7M533.5 123v7M530 136.5h7M533.5 133v7M530 145.5h7M533.5 142v7M531 117.5h7M534.5 114v7M531 126.5h7M534.5 123v7M531 136.5h7M534.5 133v7M531 145.5h7M534.5 142v7M532 117.5h7M535.5 114v7M532 126.5h7M535.5 123v7M532 136.5h7M535.5 133v7M532 145.5h7M535.5 142v7M532 155.5h7M535.5 152v7M533 126.5h7M536.5 123v7M533 136.5h7M536.5 133v7M533 145.5h7M536.5 142v7M533 155.5h7M536.5 152v7M534 117.5h7M537.5 114v7M534 126.5h7M537.5 123v7M534 136.5h7M537.5 133v7M534 145.5h7M537.5 142v7M534 155.5h7M537.5 152v7M535 136.5h7M538.5 133v7M535 145.5h7M538.5 142v7M536 126.5h7M539.5 123v7M536 136.5h7M539.5 133v7M536 145.5h7M539.5 142v7M537 126.5h7M540.5 123v7M537 136.5h7M540.5 133v7M537 145.5h7M540.5 142v7M538 126.5h7M541.5 123v7M538 136.5h7M541.5 133v7M538 145.5h7M541.5 142v7M539 136.5h7M542.5 133v7M539 145.5h7M542.5 142v7M540 126.5h7M543.5 123v7M540 136.5h7M543.5 133v7M540 145.5h7M543.5 142v7M541 126.5h7M544.5 123v7M541 136.5h7M544.5 133v7M541 145.5h7M544.5 142v7M542 117.5h7M545.5 114v7M542 126.5h7M545.5 123v7M542 136.5h7M545.5 133v7M542 145.5h7M545.5 142v7M543 136.5h7M546.5 133v7M543 145.5h7M546.5 142v7M544 117.5h7M547.5 114v7M544 126.5h7M547.5 123v7M544 136.5h7M547.5 133v7M544 145.5h7M547.5 142v7M545 117.5h7M548.5 114v7M545 126.5h7M548.5 123v7M545 136.5h7M548.5 133v7M545 145.5h7M548.5 142v7M546 126.5h7M549.5 123v7M546 136.5h7M549.5 133v7M546 145.5h7M549.5 142v7M547 126.5h7M550.5 123v7M547 136.5h7M550.5 133v7M547 145.5h7M550.5 142v7M547 164.5h7M550.5 161v7M548 126.5h7M551.5 123v7M548 136.5h7M551.5 133v7M548 145.5h7M551.5 142v7M549 126.5h7M552.5 123v7M549 136.5h7M552.5 133v7M549 145.5h7M552.5 142v7M550 107.5h7M553.5 104v7M550 126.5h7M553.5 123v7M550 136.5h7M553.5 133v7M550 145.5h7M553.5 142v7M551 117.5h7M554.5 114v7M551 126.5h7M554.5 123v7M551 136.5h7M554.5 133v7M551 145.5h7M554.5 142v7M552 136.5h7M555.5 133v7M552 145.5h7M555.5 142v7M553 126.5h7M556.5 123v7M553 145.5h7M556.5 142v7M553 155.5h7M556.5 152v7M554 107.5h7M557.5 104v7M554 126.5h7M557.5 123v7M554 136.5h7M557.5 133v7M554 145.5h7M557.5 142v7M554 155.5h7M557.5 152v7M555 117.5h7M558.5 114v7M555 126.5h7M558.5 123v7M555 136.5h7M558.5 133v7M555 145.5h7M558.5 142v7M556 126.5h7M559.5 123v7M556 136.5h7M559.5 133v7M556 145.5h7M559.5 142v7M557 126.5h7M560.5 123v7M557 136.5h7M560.5 133v7M557 145.5h7M560.5 142v7M557 155.5h7M560.5 152v7M558 126.5h7M561.5 123v7M558 136.5h7M561.5 133v7M558 155.5h7M561.5 152v7M559 117.5h7M562.5 114v7M559 126.5h7M562.5 123v7M559 145.5h7M562.5 142v7"/></g>
<path d="M109 174.5H563" stroke="#009e73"/><path d="M109 164.5H563" stroke="#56b4e9"/><path d="M109 98.5H563" stroke="#e69f00"/>
<path d="M96 439.5H100M609 439.5H605M96 392.5H100M609 392.5H605M96 344.5H100M609 344.5H605M96 297.5H100M609 297.5H605M96 250.5H100M609 250.5H605M96 202.5H100M609 202.5H605M96 155.5H100M609 155.5H605M96 107.5H100M609 107.5H605M96 60.5H100M609 60.5H605M95.5 439v-4M95.5 61v4M109.5 439v-2M109.5 61v2M124.5 439v-2M124.5 61v2M138.5 439v-2M138.5 61v2M152.5 439v-4M152.5 61v4M166.5 439v-2M166.5 61v2M181.5 439v-2M181.5 61v2M195.5 439v-2M195.5 61v2M209.5 439v-4M209.5 61v4M224.5 439v-2M224.5 61v2M238.5 439v-2M238.5 61v2M252.5 439v-2M252.5 61v2M266.5 439v-4M266.5 61v4M281.5 439v-2M281.5 61v2M295.5 439v-2M295.5 61v2M309.5 439v-2M309.5 61v2M323.5 439v-4M323.5 61v4M338.5 439v-2M338.5 61v2M352.5 439v-2M352.5 61v2M366.5 439v-2M366.5 61v2M381.5 439v-4M381.5 61v4M395.5 439v-2M395.5 61v2M409.5 439v-2M409.5 61v2M423.5 439v-2M423.5 61v2M438.5 439v-4M438.5 61v4M452.5 439v-2M452.5 61v2M466.5 439v-2M466.5 61v2M481.5 439v-2M481.5 61v2M495.5 439v-4M495.5 61v4M509.5 439v-2M509.5 61v2M523.5 439v-2M523.5 61v2M538.5 439v-2M538.5 61v2M552.5 439v-4M552.5 61v4M566.5 439v-2M566.5 61v2M580.5 439v-2M580.5 61v2M595.5 439v-2M595.5 61v2M609.5 439v-4M609.5 61v4" stroke="#000"/>
<rect x="95.5" y="60.5" width="514.0" height="379.0" fill="none" stroke="#000" stroke-width="1"/>
<path d="M195 74.5H240" stroke="#9400d3"/><path d="M195 94.5H240" stroke="#009e73"/><path d="M195 114.5H240" stroke="#56b4e9"/><path d="M195 134.5H240" stroke="#e69f00"/><path d="M217.5 71V78" stroke="#9400d3"/>
<text x="80.7" y="443.6" text-anchor="end" textLength="21" lengthAdjust="spacing">0.2</text><text x="80.7" y="396.2" text-anchor="end" textLength="30" lengthAdjust="spacing">0.25</text><text x="80.7" y="348.9" text-anchor="end" textLength="21" lengthAdjust="spacing">0.3</text><text x="80.7" y="301.5" text-anchor="end" textLength="30" lengthAdjust="spacing">0.35</text><text x="80.7" y="254.1" text-anchor="end" textLength="21" lengthAdjust="spacing">0.4</text><text x="80.7" y="206.7" text-anchor="end" textLength="30" lengthAdjust="spacing">0.45</text><text x="80.7" y="159.4" text-anchor="end" textLength="21" lengthAdjust="spacing">0.5</text><text x="80.7" y="112.0" text-anchor="end" textLength="30" lengthAdjust="spacing">0.55</text><text x="80.7" y="64.6" text-anchor="end" textLength="21" lengthAdjust="spacing">0.6</text><text x="92.5" y="464" text-anchor="middle" textLength="65" lengthAdjust="spacing">01/01/15</text><text x="149.6" y="464" text-anchor="middle" textLength="65" lengthAdjust="spacing">01/01/16</text><text x="206.7" y="464" text-anchor="middle" textLength="65" lengthAdjust="spacing">01/01/17</text><text x="263.8" y="464" text-anchor="middle" textLength="65" lengthAdjust="spacing">01/01/18</text><text x="320.9" y="464" text-anchor="middle" textLength="65" lengthAdjust="spacing">01/01/19</text><text x="378.1" y="464" text-anchor="middle" textLength="65" lengthAdjust="spacing">01/01/20</text><text x="435.2" y="464" text-anchor="middle" textLength="65" lengthAdjust="spacing">01/01/21</text><text x="492.3" y="464" text-anchor="middle" textLength="65" lengthAdjust="spacing">01/01/22</text><text x="549.4" y="464" text-anchor="middle" textLength="65" lengthAdjust="spacing">01/01/23</text><text x="606.5" y="464" text-anchor="middle" textLength="65" lengthAdjust="spacing">01/01/24</text><text x="350.7" y="35" text-anchor="middle" textLength="215" lengthAdjust="spacing">Compile time in s for ray-5-O0</text><text transform="translate(20.2,251) rotate(-90)" text-anchor="middle">s</text><text x="105.5" y="79.0" textLength="63" lengthAdjust="spacing">ray-5-O0</text><text x="105.5" y="99.0" textLength="34" lengthAdjust="spacing">4.1.0</text><text x="105.5" y="119.0" textLength="34" lengthAdjust="spacing">4.1.2</text><text x="105.5" y="139.0" textLength="46" lengthAdjust="spacing">icc-9.0</text>
</svg>
</body></html>
